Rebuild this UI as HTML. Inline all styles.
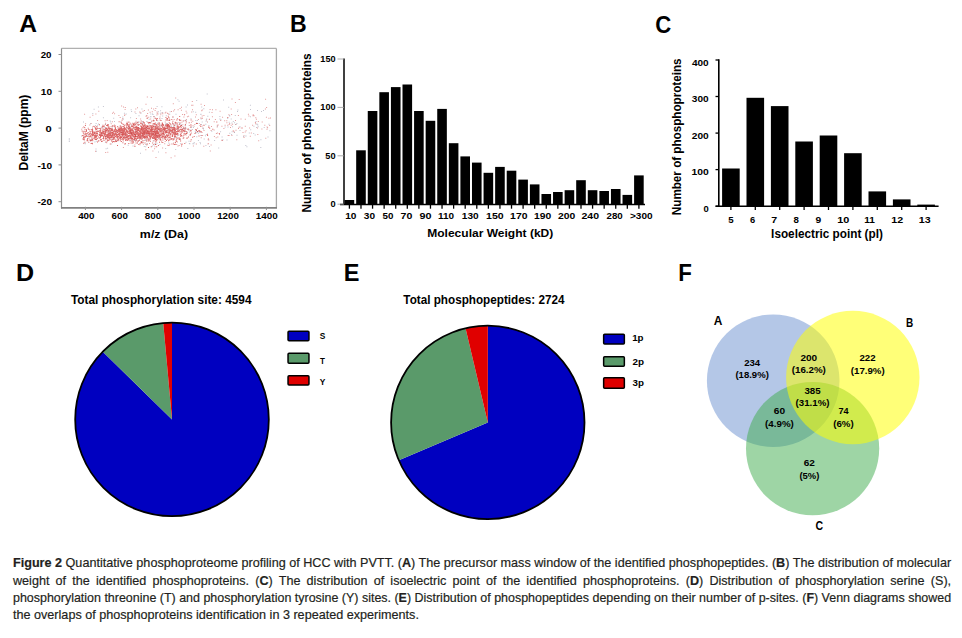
<!DOCTYPE html>
<html><head><meta charset="utf-8"><title>Figure 2</title>
<style>
html,body{margin:0;padding:0;background:#fff;}
body{width:962px;height:638px;overflow:hidden;position:relative;font-family:'Liberation Sans', Arial, sans-serif;}
svg{position:absolute;left:0;top:0;}
svg text{font-family:'Liberation Sans', Arial, sans-serif;}
.l{position:absolute;left:12.9px;font-size:13.1px;line-height:17px;height:17px;color:#231f20;white-space:nowrap;transform-origin:0 0;-webkit-text-stroke:0.2px #231f20;}
.j{text-align:justify;text-align-last:justify;white-space:normal;}
b{font-weight:bold;}
</style></head><body>
<svg width="962" height="638" viewBox="0 0 962 638">
<text x="19.39" y="31.80" font-size="24" font-weight="bold" fill="#000" textLength="17.76" lengthAdjust="spacingAndGlyphs">A</text>
<text x="290.05" y="31.80" font-size="24" font-weight="bold" fill="#000" textLength="16.70" lengthAdjust="spacingAndGlyphs">B</text>
<text x="655.29" y="32.60" font-size="24" font-weight="bold" fill="#000" textLength="16.02" lengthAdjust="spacingAndGlyphs">C</text>
<text x="15.92" y="281.20" font-size="24" font-weight="bold" fill="#000" textLength="18.13" lengthAdjust="spacingAndGlyphs">D</text>
<text x="343.83" y="281.10" font-size="24" font-weight="bold" fill="#000" textLength="15.69" lengthAdjust="spacingAndGlyphs">E</text>
<text x="678.21" y="280.80" font-size="24" font-weight="bold" fill="#000" textLength="13.61" lengthAdjust="spacingAndGlyphs">F</text>
<path d="M126.3 137.4h1v1h-1zM226.4 122.3h1v1h-1zM135.4 134.1h1v1h-1zM167.3 120.0h1v1h-1zM266.5 128.8h1v1h-1zM211.0 125.9h1v1h-1zM227.3 124.8h1v1h-1zM218.7 133.0h1v1h-1zM105.2 151.9h1v1h-1zM188.9 134.6h1v1h-1zM224.6 124.8h1v1h-1zM182.3 124.3h1v1h-1zM186.9 116.2h1v1h-1zM207.9 138.2h1v1h-1zM150.4 122.6h1v1h-1zM176.0 141.1h1v1h-1zM189.9 127.1h1v1h-1zM143.9 136.2h1v1h-1zM185.3 127.7h1v1h-1zM190.2 140.8h1v1h-1zM203.3 145.7h1v1h-1zM217.3 136.4h1v1h-1zM163.2 136.0h1v1h-1zM160.4 129.0h1v1h-1zM138.0 140.6h1v1h-1zM142.3 132.7h1v1h-1zM102.1 134.7h1v1h-1zM235.4 123.9h1v1h-1zM159.9 119.8h1v1h-1zM197.9 119.0h1v1h-1zM145.0 134.8h1v1h-1zM215.7 137.2h1v1h-1zM173.1 110.4h1v1h-1zM159.8 125.4h1v1h-1zM140.3 124.7h1v1h-1zM124.6 108.9h1v1h-1zM184.3 130.8h1v1h-1zM133.2 124.1h1v1h-1zM183.5 127.4h1v1h-1zM226.3 120.3h1v1h-1zM146.6 118.1h1v1h-1zM164.3 130.2h1v1h-1zM132.3 129.2h1v1h-1zM177.6 109.3h1v1h-1zM82.4 127.2h1v1h-1zM113.1 111.7h1v1h-1zM190.9 121.8h1v1h-1zM165.4 111.7h1v1h-1zM149.6 111.8h1v1h-1zM211.5 112.0h1v1h-1zM97.1 120.1h1v1h-1zM182.1 113.9h1v1h-1zM235.0 120.0h1v1h-1zM165.2 117.1h1v1h-1zM196.8 130.9h1v1h-1zM83.2 126.3h1v1h-1zM185.6 134.5h1v1h-1zM165.9 127.6h1v1h-1zM192.9 145.4h1v1h-1zM123.2 123.9h1v1h-1zM228.6 134.9h1v1h-1zM192.4 104.8h1v1h-1zM117.3 132.2h1v1h-1zM184.3 127.4h1v1h-1zM130.2 126.7h1v1h-1zM258.2 140.2h1v1h-1zM181.4 121.7h1v1h-1zM234.9 102.0h1v1h-1zM173.7 119.1h1v1h-1zM201.2 110.2h1v1h-1zM86.5 140.3h1v1h-1zM207.7 139.3h1v1h-1zM146.8 96.5h1v1h-1zM136.5 122.1h1v1h-1zM221.2 139.8h1v1h-1zM153.7 117.4h1v1h-1zM144.1 133.1h1v1h-1zM270.0 117.5h1v1h-1zM200.3 117.5h1v1h-1zM115.1 126.9h1v1h-1zM150.2 118.4h1v1h-1zM88.7 135.3h1v1h-1zM245.6 130.3h1v1h-1zM217.7 124.4h1v1h-1zM220.2 120.1h1v1h-1zM132.1 131.4h1v1h-1zM184.7 134.1h1v1h-1zM179.5 131.7h1v1h-1zM155.3 132.8h1v1h-1zM105.1 122.8h1v1h-1zM135.5 120.8h1v1h-1zM166.0 117.4h1v1h-1zM155.5 156.9h1v1h-1zM148.6 132.7h1v1h-1zM214.9 119.0h1v1h-1zM95.4 113.4h1v1h-1zM176.2 140.8h1v1h-1zM106.0 127.9h1v1h-1zM215.4 109.2h1v1h-1zM107.3 151.7h1v1h-1zM244.7 131.5h1v1h-1zM254.9 122.1h1v1h-1zM191.8 100.9h1v1h-1zM100.7 133.3h1v1h-1zM154.9 139.0h1v1h-1zM138.1 122.2h1v1h-1zM134.5 111.5h1v1h-1zM147.4 134.5h1v1h-1zM168.9 117.4h1v1h-1zM82.0 134.9h1v1h-1zM89.3 124.6h1v1h-1zM247.9 113.8h1v1h-1zM174.1 109.2h1v1h-1zM269.2 125.0h1v1h-1zM155.0 133.8h1v1h-1zM183.4 116.6h1v1h-1zM153.8 137.5h1v1h-1zM228.7 124.1h1v1h-1zM166.6 137.2h1v1h-1zM211.9 116.2h1v1h-1zM233.7 131.5h1v1h-1zM250.8 132.5h1v1h-1zM165.1 119.6h1v1h-1zM203.5 129.9h1v1h-1zM195.9 129.2h1v1h-1zM195.2 132.1h1v1h-1zM176.9 141.5h1v1h-1zM112.3 137.6h1v1h-1zM232.7 130.2h1v1h-1zM137.8 127.1h1v1h-1zM208.1 126.6h1v1h-1zM112.2 140.4h1v1h-1zM122.7 132.1h1v1h-1zM168.5 117.3h1v1h-1zM154.5 146.2h1v1h-1zM257.0 127.5h1v1h-1zM232.1 123.8h1v1h-1zM182.4 125.9h1v1h-1zM265.3 137.7h1v1h-1zM216.8 124.8h1v1h-1zM154.6 110.1h1v1h-1zM188.1 115.7h1v1h-1zM134.3 144.5h1v1h-1zM106.7 120.1h1v1h-1zM92.3 140.3h1v1h-1zM201.8 109.5h1v1h-1zM137.0 107.2h1v1h-1zM145.3 149.3h1v1h-1zM261.7 121.6h1v1h-1zM194.3 124.1h1v1h-1zM155.3 108.1h1v1h-1zM139.3 111.4h1v1h-1zM200.9 135.0h1v1h-1zM153.2 130.9h1v1h-1zM123.9 124.8h1v1h-1zM83.7 139.8h1v1h-1zM146.3 144.5h1v1h-1zM222.1 116.8h1v1h-1zM170.6 157.3h1v1h-1zM268.4 117.7h1v1h-1zM191.2 111.5h1v1h-1zM112.4 138.8h1v1h-1zM136.2 127.6h1v1h-1zM130.2 130.4h1v1h-1zM195.8 143.5h1v1h-1zM148.5 133.7h1v1h-1zM143.4 131.8h1v1h-1zM103.3 126.3h1v1h-1zM123.1 137.3h1v1h-1zM164.7 132.4h1v1h-1zM190.8 129.8h1v1h-1zM106.3 130.0h1v1h-1zM106.1 127.7h1v1h-1zM153.2 125.7h1v1h-1zM200.7 137.3h1v1h-1zM101.5 129.6h1v1h-1zM159.5 116.5h1v1h-1zM121.5 134.1h1v1h-1zM267.1 127.2h1v1h-1zM149.0 139.6h1v1h-1zM148.2 122.3h1v1h-1zM219.6 110.7h1v1h-1zM147.9 109.5h1v1h-1zM163.7 128.7h1v1h-1zM169.0 137.1h1v1h-1zM165.4 130.2h1v1h-1zM177.3 138.2h1v1h-1zM131.6 137.6h1v1h-1zM164.7 140.9h1v1h-1zM148.2 116.7h1v1h-1zM161.2 134.4h1v1h-1zM175.0 136.0h1v1h-1zM209.8 150.4h1v1h-1zM95.0 150.8h1v1h-1zM186.0 119.2h1v1h-1zM139.8 112.4h1v1h-1zM111.8 132.3h1v1h-1zM104.6 120.3h1v1h-1zM157.5 113.6h1v1h-1zM163.4 133.9h1v1h-1zM186.6 133.0h1v1h-1zM85.1 123.2h1v1h-1zM131.0 132.8h1v1h-1zM145.5 103.7h1v1h-1zM255.3 117.3h1v1h-1zM221.4 125.7h1v1h-1zM111.2 129.6h1v1h-1zM223.4 128.1h1v1h-1zM146.9 125.9h1v1h-1zM102.2 126.8h1v1h-1zM152.5 120.5h1v1h-1zM203.4 115.1h1v1h-1zM168.2 113.8h1v1h-1zM135.0 136.2h1v1h-1zM123.0 106.5h1v1h-1zM114.9 125.2h1v1h-1zM191.0 132.6h1v1h-1zM231.4 135.1h1v1h-1zM141.7 135.7h1v1h-1zM153.9 120.2h1v1h-1zM186.8 128.7h1v1h-1zM122.3 117.9h1v1h-1zM122.9 140.4h1v1h-1zM153.3 123.1h1v1h-1zM122.6 133.7h1v1h-1zM202.1 135.0h1v1h-1zM147.1 112.9h1v1h-1zM252.7 114.3h1v1h-1zM188.1 129.4h1v1h-1zM162.3 113.2h1v1h-1zM152.9 129.4h1v1h-1zM178.5 126.8h1v1h-1zM106.2 142.2h1v1h-1zM137.5 132.3h1v1h-1zM142.1 138.0h1v1h-1zM156.6 111.6h1v1h-1zM151.0 107.7h1v1h-1zM167.2 118.6h1v1h-1zM90.7 123.1h1v1h-1zM174.4 133.0h1v1h-1zM166.9 112.7h1v1h-1zM121.1 105.6h1v1h-1zM131.1 123.8h1v1h-1zM230.0 127.0h1v1h-1zM138.2 135.1h1v1h-1zM100.5 134.9h1v1h-1zM180.6 129.0h1v1h-1zM84.1 113.8h1v1h-1zM140.6 128.2h1v1h-1zM129.6 124.1h1v1h-1zM159.0 125.5h1v1h-1zM159.5 119.5h1v1h-1zM255.1 123.3h1v1h-1zM213.7 121.3h1v1h-1zM150.9 120.6h1v1h-1zM199.5 124.9h1v1h-1zM94.6 133.5h1v1h-1zM172.8 103.2h1v1h-1zM107.8 130.3h1v1h-1zM124.4 114.3h1v1h-1zM153.1 108.4h1v1h-1zM216.9 132.4h1v1h-1zM191.2 104.7h1v1h-1zM153.2 116.0h1v1h-1zM177.6 128.5h1v1h-1zM159.3 118.1h1v1h-1zM205.9 119.5h1v1h-1zM176.2 143.9h1v1h-1zM237.9 115.0h1v1h-1zM134.9 135.2h1v1h-1zM249.8 135.7h1v1h-1zM208.8 119.1h1v1h-1zM147.2 121.7h1v1h-1zM265.9 116.7h1v1h-1zM114.7 126.6h1v1h-1zM114.1 113.2h1v1h-1zM213.6 129.6h1v1h-1zM147.4 130.9h1v1h-1zM124.8 107.1h1v1h-1zM160.9 134.6h1v1h-1zM154.7 143.7h1v1h-1zM176.8 123.5h1v1h-1zM261.4 128.4h1v1h-1zM167.2 125.0h1v1h-1zM201.7 115.5h1v1h-1zM201.5 132.1h1v1h-1zM186.0 121.3h1v1h-1zM138.2 129.6h1v1h-1zM140.1 118.5h1v1h-1zM139.5 144.3h1v1h-1zM167.7 124.2h1v1h-1zM148.0 133.2h1v1h-1zM119.7 117.1h1v1h-1zM209.6 109.0h1v1h-1zM175.2 97.6h1v1h-1zM171.0 111.1h1v1h-1zM186.6 137.1h1v1h-1zM156.0 134.4h1v1h-1zM200.6 103.7h1v1h-1zM105.2 139.3h1v1h-1zM169.3 125.9h1v1h-1zM112.2 138.9h1v1h-1zM176.0 128.5h1v1h-1zM201.7 125.4h1v1h-1zM231.5 98.5h1v1h-1zM89.6 116.7h1v1h-1zM209.0 118.8h1v1h-1zM264.9 108.4h1v1h-1zM255.9 118.8h1v1h-1zM179.8 130.9h1v1h-1zM141.4 129.0h1v1h-1zM161.4 112.4h1v1h-1zM244.8 125.7h1v1h-1zM228.4 114.2h1v1h-1zM173.2 142.6h1v1h-1zM243.5 135.3h1v1h-1zM152.6 133.9h1v1h-1zM264.3 124.8h1v1h-1zM113.9 124.4h1v1h-1zM179.6 108.0h1v1h-1zM121.9 119.5h1v1h-1zM207.0 121.6h1v1h-1zM165.4 152.3h1v1h-1zM118.4 115.1h1v1h-1zM120.5 136.8h1v1h-1zM151.6 128.5h1v1h-1zM177.1 132.8h1v1h-1zM167.3 113.0h1v1h-1zM92.0 126.4h1v1h-1zM142.3 132.9h1v1h-1zM230.7 108.6h1v1h-1zM162.8 134.5h1v1h-1zM252.1 124.8h1v1h-1zM185.6 122.5h1v1h-1zM181.0 106.7h1v1h-1zM192.3 120.8h1v1h-1zM135.4 138.0h1v1h-1zM149.0 142.9h1v1h-1zM179.7 128.4h1v1h-1zM162.1 123.5h1v1h-1zM92.3 114.7h1v1h-1zM215.9 132.9h1v1h-1zM185.6 110.8h1v1h-1zM158.2 136.5h1v1h-1zM164.2 143.2h1v1h-1zM163.6 135.0h1v1h-1zM168.4 134.2h1v1h-1zM154.1 148.3h1v1h-1zM142.0 139.8h1v1h-1zM216.7 126.4h1v1h-1zM252.5 115.2h1v1h-1zM236.3 139.3h1v1h-1zM91.9 132.2h1v1h-1zM169.4 139.4h1v1h-1zM127.2 125.0h1v1h-1zM213.9 136.1h1v1h-1zM257.8 121.1h1v1h-1zM177.5 145.6h1v1h-1zM212.0 109.2h1v1h-1zM253.5 115.2h1v1h-1zM124.9 124.6h1v1h-1zM156.0 130.3h1v1h-1zM122.9 147.1h1v1h-1zM164.7 112.6h1v1h-1zM133.8 139.4h1v1h-1zM152.4 150.5h1v1h-1zM266.6 126.6h1v1h-1zM195.8 114.2h1v1h-1zM93.7 134.7h1v1h-1zM266.1 106.9h1v1h-1zM112.4 141.0h1v1h-1zM89.1 133.1h1v1h-1zM145.5 115.7h1v1h-1zM155.1 141.4h1v1h-1zM165.1 135.3h1v1h-1zM156.9 131.4h1v1h-1zM241.9 127.4h1v1h-1zM103.8 125.4h1v1h-1zM204.0 104.9h1v1h-1zM192.0 109.2h1v1h-1zM180.9 109.8h1v1h-1zM195.0 116.4h1v1h-1zM171.2 143.4h1v1h-1zM199.3 131.3h1v1h-1zM112.3 125.9h1v1h-1zM102.6 130.6h1v1h-1zM151.8 111.3h1v1h-1zM112.0 112.7h1v1h-1zM126.0 122.9h1v1h-1zM238.0 128.0h1v1h-1zM233.2 130.7h1v1h-1zM238.7 98.9h1v1h-1zM118.6 129.0h1v1h-1zM135.9 118.0h1v1h-1zM210.6 130.1h1v1h-1zM207.8 142.9h1v1h-1zM142.5 110.7h1v1h-1zM166.0 131.9h1v1h-1zM157.4 133.0h1v1h-1zM240.8 127.4h1v1h-1zM174.4 155.6h1v1h-1zM198.3 130.2h1v1h-1zM184.4 129.7h1v1h-1zM133.2 123.5h1v1h-1zM131.9 142.1h1v1h-1zM142.9 143.8h1v1h-1zM185.1 126.9h1v1h-1zM238.6 126.7h1v1h-1zM248.4 115.5h1v1h-1zM134.3 124.8h1v1h-1zM210.6 144.5h1v1h-1zM89.2 129.4h1v1h-1zM146.4 132.8h1v1h-1zM230.7 124.7h1v1h-1zM154.6 130.1h1v1h-1zM98.3 110.8h1v1h-1zM134.9 123.8h1v1h-1zM180.0 124.9h1v1h-1zM184.7 124.5h1v1h-1zM120.3 132.2h1v1h-1zM152.9 144.1h1v1h-1zM124.1 115.0h1v1h-1zM167.2 144.7h1v1h-1zM131.8 143.1h1v1h-1zM109.0 137.7h1v1h-1zM134.5 128.5h1v1h-1zM170.1 123.7h1v1h-1zM173.9 129.6h1v1h-1zM149.4 131.9h1v1h-1zM240.5 118.5h1v1h-1zM160.3 114.3h1v1h-1zM242.5 131.9h1v1h-1zM203.9 124.8h1v1h-1zM229.2 123.0h1v1h-1zM202.5 127.8h1v1h-1zM156.7 112.8h1v1h-1zM163.0 124.7h1v1h-1zM162.1 147.5h1v1h-1zM208.3 139.6h1v1h-1zM121.4 126.2h1v1h-1zM163.4 128.7h1v1h-1zM99.7 127.7h1v1h-1zM93.3 125.7h1v1h-1zM235.5 129.8h1v1h-1zM243.5 137.0h1v1h-1zM111.9 121.2h1v1h-1zM116.1 141.1h1v1h-1zM222.0 139.9h1v1h-1zM186.3 112.4h1v1h-1zM167.4 125.4h1v1h-1zM181.5 143.3h1v1h-1zM110.7 123.2h1v1h-1zM137.5 133.5h1v1h-1zM144.5 128.2h1v1h-1zM165.4 128.8h1v1h-1zM135.4 142.4h1v1h-1zM143.9 110.0h1v1h-1zM159.5 125.4h1v1h-1zM104.8 124.1h1v1h-1zM188.8 124.9h1v1h-1zM168.8 119.5h1v1h-1zM178.6 129.7h1v1h-1zM192.5 125.3h1v1h-1zM227.6 135.1h1v1h-1zM134.1 134.0h1v1h-1zM122.3 139.4h1v1h-1zM160.5 123.7h1v1h-1zM231.1 114.1h1v1h-1zM163.3 132.9h1v1h-1zM167.0 118.8h1v1h-1zM84.9 133.6h1v1h-1zM150.7 97.0h1v1h-1zM244.8 118.7h1v1h-1zM156.4 114.5h1v1h-1zM135.3 108.5h1v1h-1zM149.1 122.2h1v1h-1zM164.7 121.4h1v1h-1zM168.0 117.1h1v1h-1zM147.3 126.5h1v1h-1zM197.1 127.7h1v1h-1zM169.2 143.8h1v1h-1zM207.6 143.6h1v1h-1zM164.5 135.5h1v1h-1zM87.8 134.4h1v1h-1zM224.2 120.3h1v1h-1zM155.2 143.9h1v1h-1zM81.2 128.8h1v1h-1zM265.1 98.8h1v1h-1zM249.1 127.5h1v1h-1zM257.3 133.9h1v1h-1zM121.4 119.7h1v1h-1zM200.1 124.0h1v1h-1zM178.7 145.1h1v1h-1zM203.0 124.8h1v1h-1zM184.0 128.2h1v1h-1z" fill="#cf4a4a" fill-opacity="0.55"/>
<path d="M250.0 109.1h1v1h-1zM205.3 123.7h1v1h-1zM141.7 135.3h1v1h-1zM110.0 130.8h1v1h-1zM142.3 121.3h1v1h-1zM229.3 132.7h1v1h-1zM245.3 145.1h1v1h-1zM205.4 144.9h1v1h-1zM261.0 111.1h1v1h-1zM152.6 140.6h1v1h-1zM142.4 123.1h1v1h-1zM232.1 126.2h1v1h-1zM98.0 123.5h1v1h-1zM172.3 123.4h1v1h-1zM255.5 121.1h1v1h-1zM180.4 123.8h1v1h-1zM116.0 130.9h1v1h-1zM158.3 137.9h1v1h-1zM177.8 128.6h1v1h-1zM150.0 116.3h1v1h-1zM102.9 117.2h1v1h-1zM105.1 123.7h1v1h-1zM146.6 142.9h1v1h-1zM195.2 111.8h1v1h-1zM185.6 119.6h1v1h-1zM177.4 99.2h1v1h-1zM95.6 122.9h1v1h-1zM148.6 123.4h1v1h-1zM111.1 128.2h1v1h-1zM165.0 124.0h1v1h-1zM136.8 122.6h1v1h-1zM198.2 130.5h1v1h-1zM189.1 131.6h1v1h-1zM196.9 120.1h1v1h-1zM129.9 140.3h1v1h-1zM96.0 150.7h1v1h-1zM141.4 108.5h1v1h-1zM109.3 132.5h1v1h-1zM142.1 123.8h1v1h-1zM124.0 136.7h1v1h-1zM236.5 134.8h1v1h-1zM120.3 121.5h1v1h-1zM154.5 130.7h1v1h-1zM208.9 111.8h1v1h-1zM229.2 115.4h1v1h-1zM97.9 106.6h1v1h-1zM164.9 135.9h1v1h-1zM174.5 132.6h1v1h-1zM200.3 113.9h1v1h-1zM165.3 122.7h1v1h-1zM130.7 109.3h1v1h-1zM175.5 113.7h1v1h-1zM156.8 135.6h1v1h-1zM166.3 126.4h1v1h-1zM158.3 128.5h1v1h-1zM140.3 137.5h1v1h-1zM129.9 132.2h1v1h-1zM152.5 114.1h1v1h-1zM222.4 139.3h1v1h-1zM135.4 113.0h1v1h-1zM228.7 121.8h1v1h-1zM196.3 136.2h1v1h-1zM139.1 139.5h1v1h-1zM183.6 120.3h1v1h-1zM161.5 130.4h1v1h-1zM116.5 140.0h1v1h-1zM211.3 130.8h1v1h-1zM124.6 133.5h1v1h-1zM153.6 144.4h1v1h-1zM138.5 115.2h1v1h-1zM254.7 134.6h1v1h-1zM190.5 118.3h1v1h-1zM234.8 115.0h1v1h-1zM227.2 117.9h1v1h-1zM176.6 135.5h1v1h-1zM102.9 105.9h1v1h-1zM218.2 147.4h1v1h-1zM188.9 143.0h1v1h-1zM250.2 129.3h1v1h-1zM267.5 136.4h1v1h-1zM104.9 141.7h1v1h-1zM173.8 137.6h1v1h-1zM200.5 113.7h1v1h-1zM174.4 124.7h1v1h-1zM188.5 140.8h1v1h-1zM205.8 134.0h1v1h-1zM173.2 126.1h1v1h-1zM134.5 129.4h1v1h-1zM184.7 125.6h1v1h-1zM175.2 148.9h1v1h-1zM245.5 135.4h1v1h-1zM104.4 127.4h1v1h-1zM125.7 113.5h1v1h-1zM138.5 124.4h1v1h-1zM148.7 118.8h1v1h-1zM178.6 100.8h1v1h-1zM159.4 144.1h1v1h-1zM156.8 122.8h1v1h-1zM146.2 134.0h1v1h-1zM106.6 136.4h1v1h-1zM151.9 145.4h1v1h-1zM201.0 123.9h1v1h-1zM193.7 141.9h1v1h-1zM191.9 129.0h1v1h-1zM193.7 125.8h1v1h-1zM112.0 126.5h1v1h-1zM195.4 132.5h1v1h-1zM237.0 111.1h1v1h-1zM81.0 135.4h1v1h-1zM156.5 142.8h1v1h-1zM239.5 126.2h1v1h-1zM131.3 137.4h1v1h-1zM133.9 134.4h1v1h-1zM153.9 115.9h1v1h-1zM201.7 121.5h1v1h-1zM146.1 127.0h1v1h-1zM135.3 126.3h1v1h-1zM191.0 126.9h1v1h-1zM193.4 143.3h1v1h-1zM189.3 129.3h1v1h-1zM114.0 121.1h1v1h-1zM146.3 120.9h1v1h-1zM175.3 123.7h1v1h-1zM130.1 117.3h1v1h-1zM147.1 130.8h1v1h-1zM140.7 112.5h1v1h-1zM220.4 119.3h1v1h-1zM207.3 115.7h1v1h-1zM105.2 136.1h1v1h-1zM95.5 148.4h1v1h-1zM172.1 131.3h1v1h-1zM135.0 131.6h1v1h-1zM268.5 123.8h1v1h-1zM101.7 132.8h1v1h-1zM202.4 127.6h1v1h-1zM200.7 118.4h1v1h-1zM120.9 131.7h1v1h-1zM220.1 131.2h1v1h-1zM223.0 99.6h1v1h-1zM132.5 145.5h1v1h-1zM219.4 116.0h1v1h-1zM108.8 130.7h1v1h-1zM200.0 143.3h1v1h-1zM263.7 127.1h1v1h-1zM229.1 115.0h1v1h-1zM130.8 125.3h1v1h-1zM104.5 127.0h1v1h-1zM248.8 132.4h1v1h-1zM174.5 137.6h1v1h-1zM154.6 143.1h1v1h-1zM151.0 121.2h1v1h-1zM90.4 140.4h1v1h-1zM167.0 123.0h1v1h-1zM105.6 148.2h1v1h-1zM125.7 135.6h1v1h-1zM140.0 152.8h1v1h-1zM257.0 110.0h1v1h-1zM185.6 106.4h1v1h-1zM181.0 124.7h1v1h-1zM214.1 140.0h1v1h-1zM95.8 140.8h1v1h-1zM158.0 151.5h1v1h-1zM150.3 113.5h1v1h-1zM203.3 108.2h1v1h-1zM171.0 125.9h1v1h-1zM232.8 120.9h1v1h-1zM219.4 118.6h1v1h-1zM204.9 135.3h1v1h-1zM243.1 135.9h1v1h-1zM109.7 120.4h1v1h-1zM209.0 146.0h1v1h-1zM129.4 126.6h1v1h-1zM97.1 124.8h1v1h-1zM200.3 135.1h1v1h-1zM195.6 130.0h1v1h-1zM138.3 120.9h1v1h-1zM263.0 110.0h1v1h-1zM111.8 138.8h1v1h-1zM154.4 124.7h1v1h-1zM141.1 135.8h1v1h-1zM135.4 140.1h1v1h-1zM146.2 128.8h1v1h-1zM130.3 129.7h1v1h-1zM139.3 127.5h1v1h-1zM127.9 127.2h1v1h-1zM146.4 134.3h1v1h-1zM145.1 140.0h1v1h-1zM169.8 131.0h1v1h-1zM177.2 129.6h1v1h-1zM110.3 121.5h1v1h-1zM144.7 138.8h1v1h-1zM187.3 148.0h1v1h-1zM99.5 128.3h1v1h-1zM196.7 131.9h1v1h-1zM185.5 141.7h1v1h-1zM122.3 116.5h1v1h-1zM224.6 126.6h1v1h-1zM84.8 143.3h1v1h-1zM169.2 113.8h1v1h-1zM113.2 117.8h1v1h-1zM151.0 129.4h1v1h-1zM206.2 118.6h1v1h-1zM187.0 104.5h1v1h-1zM256.0 126.9h1v1h-1zM231.6 131.3h1v1h-1zM205.6 120.7h1v1h-1zM269.4 130.3h1v1h-1zM134.0 139.8h1v1h-1zM107.1 147.7h1v1h-1zM186.9 132.0h1v1h-1zM111.1 143.5h1v1h-1zM161.0 124.8h1v1h-1zM141.7 121.4h1v1h-1zM231.4 122.4h1v1h-1zM179.7 139.2h1v1h-1zM91.2 138.8h1v1h-1zM260.4 139.3h1v1h-1zM192.9 127.1h1v1h-1zM162.2 115.5h1v1h-1zM197.9 132.7h1v1h-1zM230.7 118.5h1v1h-1zM239.5 130.1h1v1h-1zM161.4 106.3h1v1h-1zM162.2 111.9h1v1h-1zM134.6 139.7h1v1h-1zM130.9 132.8h1v1h-1zM179.1 123.1h1v1h-1zM101.2 126.4h1v1h-1zM133.3 139.6h1v1h-1zM253.2 133.0h1v1h-1zM141.7 141.3h1v1h-1zM165.1 148.1h1v1h-1zM152.7 133.2h1v1h-1zM169.6 111.2h1v1h-1zM160.3 125.2h1v1h-1zM178.0 134.5h1v1h-1zM249.9 116.3h1v1h-1zM131.1 111.1h1v1h-1zM157.3 120.3h1v1h-1zM208.4 125.0h1v1h-1zM122.8 118.8h1v1h-1zM159.4 135.8h1v1h-1zM123.9 112.7h1v1h-1zM246.4 146.2h1v1h-1zM143.8 146.0h1v1h-1zM152.2 138.0h1v1h-1zM164.8 128.0h1v1h-1zM245.3 135.6h1v1h-1zM157.3 129.8h1v1h-1zM228.2 106.8h1v1h-1zM94.4 141.4h1v1h-1zM84.4 142.8h1v1h-1zM156.6 106.1h1v1h-1zM172.7 127.3h1v1h-1zM235.2 124.0h1v1h-1zM154.5 126.1h1v1h-1zM256.4 123.5h1v1h-1zM197.9 140.1h1v1h-1zM138.4 121.5h1v1h-1zM185.2 127.9h1v1h-1zM159.9 112.7h1v1h-1zM216.9 125.7h1v1h-1zM257.3 124.6h1v1h-1zM158.0 129.1h1v1h-1zM203.0 128.5h1v1h-1zM201.2 106.6h1v1h-1zM150.5 116.3h1v1h-1zM161.5 118.1h1v1h-1zM179.9 143.2h1v1h-1zM256.5 124.0h1v1h-1zM165.8 115.3h1v1h-1zM198.8 123.0h1v1h-1zM145.2 146.2h1v1h-1zM196.2 99.9h1v1h-1zM157.9 111.2h1v1h-1zM164.8 138.9h1v1h-1zM234.0 132.0h1v1h-1zM199.6 132.1h1v1h-1zM138.1 124.6h1v1h-1zM231.1 133.9h1v1h-1zM139.2 139.3h1v1h-1zM145.2 144.1h1v1h-1zM93.6 108.7h1v1h-1zM168.3 128.8h1v1h-1zM194.8 131.3h1v1h-1zM257.7 126.3h1v1h-1zM160.1 110.3h1v1h-1zM237.4 109.4h1v1h-1zM189.3 143.3h1v1h-1zM253.4 125.7h1v1h-1zM172.5 116.5h1v1h-1zM152.0 113.5h1v1h-1zM92.3 113.0h1v1h-1zM127.7 144.8h1v1h-1zM195.3 119.9h1v1h-1zM206.7 93.6h1v1h-1zM144.0 131.4h1v1h-1zM121.2 132.0h1v1h-1zM157.0 126.9h1v1h-1zM109.4 131.4h1v1h-1zM249.9 104.8h1v1h-1zM168.3 142.4h1v1h-1zM87.2 134.4h1v1h-1zM136.0 130.9h1v1h-1zM192.8 111.2h1v1h-1zM203.7 138.5h1v1h-1zM221.6 136.6h1v1h-1zM90.0 123.3h1v1h-1zM192.4 143.2h1v1h-1zM226.5 139.5h1v1h-1zM196.2 122.6h1v1h-1zM83.0 121.5h1v1h-1zM90.0 123.3h1v1h-1zM227.5 126.6h1v1h-1zM199.6 142.1h1v1h-1zM95.1 125.1h1v1h-1zM112.4 134.6h1v1h-1zM234.1 122.2h1v1h-1zM236.4 123.0h1v1h-1zM119.6 125.6h1v1h-1zM260.3 146.9h1v1h-1zM182.8 128.6h1v1h-1zM178.4 121.9h1v1h-1zM183.3 127.8h1v1h-1zM184.9 130.9h1v1h-1zM68.8 138.2h1v1h-1zM68.8 139.6h1v1h-1zM68.8 141.0h1v1h-1z" fill="#8a8aa0" fill-opacity="0.5"/>
<path d="M137.8 140.5h1v1h-1zM174.0 124.7h1v1h-1zM144.8 130.0h1v1h-1zM132.0 138.1h1v1h-1zM131.0 134.3h1v1h-1zM195.3 129.0h1v1h-1zM126.2 123.7h1v1h-1zM140.1 122.5h1v1h-1zM135.5 133.3h1v1h-1zM176.3 133.9h1v1h-1zM110.9 134.8h1v1h-1zM150.9 133.8h1v1h-1zM115.0 127.7h1v1h-1zM129.7 134.6h1v1h-1zM166.5 130.0h1v1h-1zM83.5 134.4h1v1h-1zM136.2 132.5h1v1h-1zM156.1 132.4h1v1h-1zM175.6 133.7h1v1h-1zM92.5 130.9h1v1h-1zM166.9 118.3h1v1h-1zM153.5 140.3h1v1h-1zM135.7 138.9h1v1h-1zM143.8 130.2h1v1h-1zM181.5 129.6h1v1h-1zM146.6 134.9h1v1h-1zM126.9 130.8h1v1h-1zM145.3 132.5h1v1h-1zM94.6 134.9h1v1h-1zM92.0 143.3h1v1h-1zM151.5 135.2h1v1h-1zM166.6 125.2h1v1h-1zM129.1 133.3h1v1h-1zM155.1 127.6h1v1h-1zM143.6 136.4h1v1h-1zM139.7 130.2h1v1h-1zM159.0 141.7h1v1h-1zM157.1 136.7h1v1h-1zM169.4 129.9h1v1h-1zM146.4 139.3h1v1h-1zM121.5 133.8h1v1h-1zM154.9 138.3h1v1h-1zM114.4 138.4h1v1h-1zM168.1 140.2h1v1h-1zM176.7 137.6h1v1h-1zM175.1 131.6h1v1h-1zM153.6 132.0h1v1h-1zM124.4 135.0h1v1h-1zM145.3 136.3h1v1h-1zM154.5 126.9h1v1h-1zM125.2 138.4h1v1h-1zM140.6 130.5h1v1h-1zM146.2 128.9h1v1h-1zM114.3 129.2h1v1h-1zM140.4 132.2h1v1h-1zM129.5 131.3h1v1h-1zM173.3 129.1h1v1h-1zM122.4 128.0h1v1h-1zM123.2 130.3h1v1h-1zM106.6 137.6h1v1h-1zM142.1 135.5h1v1h-1zM81.6 130.4h1v1h-1zM160.1 138.9h1v1h-1zM101.4 133.1h1v1h-1zM160.6 120.0h1v1h-1zM126.1 127.5h1v1h-1zM135.9 126.9h1v1h-1zM136.7 127.5h1v1h-1zM163.7 129.2h1v1h-1zM93.5 135.2h1v1h-1zM198.8 130.3h1v1h-1zM154.4 136.1h1v1h-1zM121.9 132.9h1v1h-1zM126.8 136.5h1v1h-1zM135.2 136.6h1v1h-1zM145.0 128.3h1v1h-1zM170.2 130.0h1v1h-1zM144.5 137.0h1v1h-1zM144.5 142.6h1v1h-1zM145.8 129.9h1v1h-1zM88.4 136.1h1v1h-1zM125.1 134.4h1v1h-1zM182.7 137.7h1v1h-1zM144.3 128.3h1v1h-1zM167.6 129.8h1v1h-1zM84.2 127.1h1v1h-1zM181.5 131.1h1v1h-1zM132.3 139.3h1v1h-1zM89.8 136.3h1v1h-1zM194.5 133.1h1v1h-1zM147.0 128.1h1v1h-1zM155.6 139.0h1v1h-1zM120.8 136.2h1v1h-1zM148.4 127.3h1v1h-1zM96.6 135.2h1v1h-1zM167.1 134.8h1v1h-1zM121.6 133.9h1v1h-1zM151.9 128.9h1v1h-1zM98.9 134.9h1v1h-1zM90.2 139.5h1v1h-1zM143.4 122.1h1v1h-1zM141.7 133.2h1v1h-1zM176.3 119.4h1v1h-1zM190.6 119.5h1v1h-1zM95.1 136.4h1v1h-1zM122.8 135.8h1v1h-1zM124.6 129.6h1v1h-1zM107.8 130.5h1v1h-1zM114.7 133.3h1v1h-1zM114.7 132.7h1v1h-1zM146.5 131.8h1v1h-1zM143.2 132.1h1v1h-1zM151.3 130.0h1v1h-1zM100.0 128.4h1v1h-1zM136.9 129.5h1v1h-1zM133.7 132.2h1v1h-1zM175.6 134.0h1v1h-1zM151.8 132.5h1v1h-1zM120.6 139.0h1v1h-1zM157.4 130.8h1v1h-1zM163.3 132.0h1v1h-1zM131.4 125.2h1v1h-1zM142.4 124.9h1v1h-1zM168.7 122.2h1v1h-1zM156.2 146.3h1v1h-1zM117.2 131.7h1v1h-1zM144.9 130.4h1v1h-1zM136.1 133.6h1v1h-1zM144.6 132.5h1v1h-1zM99.3 132.5h1v1h-1zM129.1 132.9h1v1h-1zM84.6 136.5h1v1h-1zM102.8 128.7h1v1h-1zM143.4 136.8h1v1h-1zM112.1 129.2h1v1h-1zM103.4 131.0h1v1h-1zM163.1 128.2h1v1h-1zM155.8 129.6h1v1h-1zM122.4 134.3h1v1h-1zM86.1 133.2h1v1h-1zM159.7 135.4h1v1h-1zM150.5 125.9h1v1h-1zM117.4 140.2h1v1h-1zM154.4 128.2h1v1h-1zM148.8 136.3h1v1h-1zM149.5 128.4h1v1h-1zM179.4 126.8h1v1h-1zM152.3 130.8h1v1h-1zM176.2 133.8h1v1h-1zM127.9 132.9h1v1h-1zM153.6 130.9h1v1h-1zM158.6 124.2h1v1h-1zM161.2 127.9h1v1h-1zM154.9 136.6h1v1h-1zM135.1 130.3h1v1h-1zM176.6 124.4h1v1h-1zM146.3 132.0h1v1h-1zM158.1 134.9h1v1h-1zM149.4 125.6h1v1h-1zM106.0 135.2h1v1h-1zM166.4 127.8h1v1h-1zM169.5 122.9h1v1h-1zM145.5 130.0h1v1h-1zM101.5 132.6h1v1h-1zM144.0 136.1h1v1h-1zM170.1 130.5h1v1h-1zM122.3 130.3h1v1h-1zM118.6 129.7h1v1h-1zM186.4 131.5h1v1h-1zM148.2 140.4h1v1h-1zM129.1 134.9h1v1h-1zM112.0 129.9h1v1h-1zM152.6 129.1h1v1h-1zM109.1 133.6h1v1h-1zM177.4 132.8h1v1h-1zM164.9 131.7h1v1h-1zM105.4 131.2h1v1h-1zM128.2 132.8h1v1h-1zM141.3 137.9h1v1h-1zM95.3 135.2h1v1h-1zM148.0 132.9h1v1h-1zM115.9 134.2h1v1h-1zM98.3 130.8h1v1h-1zM104.2 128.9h1v1h-1zM154.1 129.0h1v1h-1zM85.4 135.7h1v1h-1zM87.3 140.3h1v1h-1zM164.2 126.6h1v1h-1zM152.3 125.3h1v1h-1zM154.6 126.1h1v1h-1zM113.6 131.3h1v1h-1zM156.3 133.1h1v1h-1zM128.7 130.2h1v1h-1zM149.1 127.8h1v1h-1zM155.3 125.8h1v1h-1zM152.8 120.3h1v1h-1zM91.3 138.4h1v1h-1zM146.3 127.3h1v1h-1zM155.7 127.0h1v1h-1zM152.5 126.6h1v1h-1zM131.4 128.3h1v1h-1zM88.4 133.7h1v1h-1zM99.5 137.2h1v1h-1zM119.4 132.4h1v1h-1zM125.1 140.0h1v1h-1zM114.2 126.3h1v1h-1zM123.5 131.2h1v1h-1zM138.2 130.1h1v1h-1zM135.1 140.5h1v1h-1zM178.7 130.4h1v1h-1zM137.3 128.7h1v1h-1zM141.4 133.6h1v1h-1zM125.6 132.8h1v1h-1zM128.4 121.6h1v1h-1zM163.9 129.5h1v1h-1zM94.4 138.5h1v1h-1zM145.4 131.7h1v1h-1zM173.4 138.2h1v1h-1zM182.7 130.6h1v1h-1zM145.3 136.9h1v1h-1zM103.0 136.2h1v1h-1zM148.9 133.0h1v1h-1zM128.8 128.6h1v1h-1zM100.6 131.9h1v1h-1zM177.1 133.2h1v1h-1zM174.6 132.5h1v1h-1zM121.9 131.3h1v1h-1zM142.0 134.8h1v1h-1zM151.7 129.6h1v1h-1zM146.4 135.7h1v1h-1zM105.6 130.1h1v1h-1zM99.9 135.4h1v1h-1zM139.1 132.7h1v1h-1zM105.2 133.6h1v1h-1zM132.5 132.4h1v1h-1zM160.8 130.7h1v1h-1zM174.0 135.5h1v1h-1zM176.8 125.7h1v1h-1zM168.7 120.0h1v1h-1zM136.9 137.9h1v1h-1zM111.0 140.4h1v1h-1zM124.2 138.3h1v1h-1zM140.7 130.2h1v1h-1zM143.5 128.3h1v1h-1zM155.2 132.3h1v1h-1zM143.7 137.2h1v1h-1zM163.1 127.2h1v1h-1zM120.9 131.9h1v1h-1zM146.3 130.4h1v1h-1zM140.2 131.2h1v1h-1zM134.6 133.5h1v1h-1zM105.0 131.6h1v1h-1zM90.3 134.6h1v1h-1zM108.2 140.1h1v1h-1zM108.9 139.3h1v1h-1zM107.5 133.4h1v1h-1zM140.7 127.7h1v1h-1zM123.0 133.6h1v1h-1zM200.8 131.3h1v1h-1zM147.6 133.6h1v1h-1zM127.0 134.5h1v1h-1zM95.7 137.7h1v1h-1zM86.7 136.0h1v1h-1zM123.1 131.0h1v1h-1zM93.0 134.1h1v1h-1zM164.0 136.5h1v1h-1zM113.0 132.7h1v1h-1zM116.5 129.9h1v1h-1zM119.9 137.5h1v1h-1zM107.1 136.3h1v1h-1zM152.4 132.7h1v1h-1zM114.7 133.9h1v1h-1zM171.0 127.6h1v1h-1zM123.5 131.1h1v1h-1zM136.7 130.1h1v1h-1zM176.2 133.3h1v1h-1zM142.7 134.0h1v1h-1zM137.3 135.7h1v1h-1zM123.9 131.4h1v1h-1zM161.5 133.8h1v1h-1zM113.6 131.2h1v1h-1zM110.8 129.0h1v1h-1zM138.8 134.1h1v1h-1zM139.0 135.8h1v1h-1zM142.0 129.9h1v1h-1zM92.2 132.0h1v1h-1zM145.1 130.1h1v1h-1zM149.3 134.1h1v1h-1zM122.7 134.4h1v1h-1zM137.6 134.6h1v1h-1zM109.4 136.4h1v1h-1zM173.7 131.8h1v1h-1zM162.6 136.1h1v1h-1zM152.6 136.4h1v1h-1zM104.8 130.3h1v1h-1zM123.8 134.0h1v1h-1zM115.6 133.6h1v1h-1zM109.8 132.6h1v1h-1zM125.7 130.7h1v1h-1zM97.2 138.0h1v1h-1zM133.1 123.5h1v1h-1zM146.3 133.4h1v1h-1zM141.9 128.2h1v1h-1zM139.4 132.4h1v1h-1zM109.8 133.6h1v1h-1zM126.0 136.9h1v1h-1zM136.2 123.3h1v1h-1zM182.3 129.6h1v1h-1zM97.4 131.1h1v1h-1zM184.6 128.8h1v1h-1zM157.7 137.6h1v1h-1zM143.6 122.0h1v1h-1zM146.0 127.8h1v1h-1zM148.5 128.8h1v1h-1zM149.1 134.2h1v1h-1zM178.8 119.1h1v1h-1zM124.1 136.6h1v1h-1zM155.8 139.9h1v1h-1zM149.9 129.4h1v1h-1zM173.2 129.3h1v1h-1zM169.8 136.5h1v1h-1zM147.7 127.7h1v1h-1zM158.6 129.1h1v1h-1zM168.8 124.8h1v1h-1zM158.7 131.5h1v1h-1zM142.6 131.6h1v1h-1zM164.6 130.8h1v1h-1zM89.0 133.8h1v1h-1zM142.4 131.8h1v1h-1zM110.9 128.4h1v1h-1zM123.1 136.9h1v1h-1zM151.4 134.2h1v1h-1zM184.6 128.8h1v1h-1zM176.3 131.4h1v1h-1zM159.0 136.7h1v1h-1zM93.9 135.5h1v1h-1zM144.5 132.2h1v1h-1zM112.4 132.3h1v1h-1zM130.6 131.9h1v1h-1zM136.7 130.2h1v1h-1zM111.0 130.2h1v1h-1zM153.1 133.5h1v1h-1zM154.0 123.3h1v1h-1zM127.0 127.5h1v1h-1zM142.3 128.1h1v1h-1zM132.0 135.5h1v1h-1zM164.5 138.6h1v1h-1zM150.8 134.1h1v1h-1zM111.9 132.2h1v1h-1zM126.4 134.1h1v1h-1zM86.0 129.2h1v1h-1zM166.3 124.5h1v1h-1zM84.8 131.6h1v1h-1zM120.5 127.1h1v1h-1zM165.2 138.8h1v1h-1zM105.8 135.7h1v1h-1zM118.7 127.6h1v1h-1zM175.9 139.3h1v1h-1zM171.5 131.0h1v1h-1zM99.3 131.8h1v1h-1zM162.8 131.5h1v1h-1zM174.4 135.2h1v1h-1zM147.0 130.7h1v1h-1zM113.9 135.5h1v1h-1zM111.7 136.1h1v1h-1zM86.0 129.7h1v1h-1zM131.8 132.6h1v1h-1zM159.7 130.3h1v1h-1zM167.0 125.5h1v1h-1zM208.4 126.7h1v1h-1zM173.7 129.8h1v1h-1zM106.5 131.8h1v1h-1zM156.8 132.6h1v1h-1zM111.0 128.6h1v1h-1zM172.6 139.6h1v1h-1zM120.7 134.4h1v1h-1zM126.9 132.0h1v1h-1zM96.7 126.6h1v1h-1zM155.7 135.3h1v1h-1zM127.7 138.4h1v1h-1zM102.6 133.2h1v1h-1zM142.2 127.9h1v1h-1zM140.2 135.3h1v1h-1zM102.5 138.0h1v1h-1zM106.8 136.7h1v1h-1zM164.6 136.6h1v1h-1zM150.7 126.5h1v1h-1zM138.5 136.5h1v1h-1zM151.1 135.3h1v1h-1zM127.2 135.8h1v1h-1zM110.0 136.7h1v1h-1zM123.8 133.8h1v1h-1zM83.0 137.5h1v1h-1zM140.3 129.6h1v1h-1zM161.6 136.1h1v1h-1zM171.4 130.3h1v1h-1zM160.1 131.6h1v1h-1zM168.6 135.4h1v1h-1zM104.7 132.2h1v1h-1zM128.0 136.0h1v1h-1zM113.8 136.9h1v1h-1zM151.9 133.6h1v1h-1zM101.7 134.6h1v1h-1zM133.8 137.9h1v1h-1zM128.6 132.3h1v1h-1zM107.5 135.6h1v1h-1zM146.6 143.8h1v1h-1zM167.5 127.3h1v1h-1zM177.5 125.5h1v1h-1zM88.3 141.7h1v1h-1zM115.0 129.0h1v1h-1zM122.2 138.1h1v1h-1zM178.5 137.3h1v1h-1zM140.7 120.6h1v1h-1zM159.6 128.1h1v1h-1zM143.8 134.6h1v1h-1zM138.6 124.0h1v1h-1zM130.3 129.4h1v1h-1zM150.0 129.8h1v1h-1zM175.3 133.3h1v1h-1zM155.0 134.1h1v1h-1zM141.0 126.9h1v1h-1zM175.0 130.1h1v1h-1zM108.6 132.2h1v1h-1zM137.7 128.6h1v1h-1zM155.4 131.5h1v1h-1zM130.2 127.8h1v1h-1zM96.2 128.9h1v1h-1zM137.1 137.3h1v1h-1zM153.2 126.1h1v1h-1zM105.7 134.8h1v1h-1zM146.3 115.2h1v1h-1zM122.2 138.5h1v1h-1zM143.0 131.0h1v1h-1zM177.4 130.1h1v1h-1zM127.9 127.8h1v1h-1zM130.1 130.8h1v1h-1zM143.7 133.9h1v1h-1zM175.1 122.2h1v1h-1zM96.7 130.5h1v1h-1zM140.6 130.4h1v1h-1zM89.4 131.3h1v1h-1zM143.0 134.5h1v1h-1zM130.1 129.6h1v1h-1zM126.2 125.2h1v1h-1zM88.5 137.4h1v1h-1zM172.0 131.5h1v1h-1zM133.2 130.8h1v1h-1zM156.1 132.1h1v1h-1zM165.2 131.0h1v1h-1zM90.6 143.0h1v1h-1zM156.9 135.9h1v1h-1zM120.3 131.8h1v1h-1zM156.3 119.4h1v1h-1zM121.2 134.2h1v1h-1zM182.7 120.5h1v1h-1zM100.8 132.6h1v1h-1zM175.3 133.2h1v1h-1zM172.9 133.5h1v1h-1zM113.8 130.6h1v1h-1zM82.9 132.8h1v1h-1zM101.1 133.2h1v1h-1zM143.6 132.0h1v1h-1zM117.1 132.0h1v1h-1zM172.6 132.1h1v1h-1zM122.5 138.2h1v1h-1zM142.6 135.4h1v1h-1zM150.1 135.3h1v1h-1zM114.1 133.5h1v1h-1zM128.6 128.6h1v1h-1zM107.7 131.6h1v1h-1zM145.6 125.2h1v1h-1zM130.9 133.3h1v1h-1zM110.1 128.3h1v1h-1zM169.7 132.8h1v1h-1zM111.1 136.0h1v1h-1zM136.5 136.5h1v1h-1zM155.8 131.0h1v1h-1zM103.1 137.3h1v1h-1zM109.0 128.0h1v1h-1zM140.4 128.7h1v1h-1zM137.6 135.7h1v1h-1zM129.4 140.2h1v1h-1zM104.9 136.6h1v1h-1zM110.3 134.9h1v1h-1zM117.0 137.0h1v1h-1zM169.4 129.0h1v1h-1zM149.2 135.8h1v1h-1zM84.4 141.7h1v1h-1zM128.8 130.6h1v1h-1zM110.9 136.2h1v1h-1zM108.7 134.9h1v1h-1zM147.8 130.2h1v1h-1zM131.5 134.5h1v1h-1zM141.3 127.5h1v1h-1zM183.3 137.2h1v1h-1zM133.1 142.2h1v1h-1zM90.9 140.1h1v1h-1zM149.8 125.0h1v1h-1zM126.0 130.2h1v1h-1zM104.1 135.6h1v1h-1zM95.7 135.0h1v1h-1zM95.9 136.6h1v1h-1zM171.1 138.7h1v1h-1zM142.1 127.4h1v1h-1zM108.7 132.7h1v1h-1zM100.0 139.6h1v1h-1zM184.1 114.3h1v1h-1zM133.7 132.9h1v1h-1zM108.8 137.2h1v1h-1zM145.3 125.9h1v1h-1zM95.6 131.2h1v1h-1zM129.6 137.6h1v1h-1zM179.2 115.9h1v1h-1zM125.5 131.5h1v1h-1zM159.0 124.6h1v1h-1zM138.9 129.5h1v1h-1zM166.9 128.1h1v1h-1zM108.5 127.4h1v1h-1zM92.1 130.0h1v1h-1zM127.6 135.9h1v1h-1zM134.6 126.9h1v1h-1zM113.1 133.6h1v1h-1zM166.2 125.1h1v1h-1zM150.4 131.5h1v1h-1zM184.4 130.5h1v1h-1zM169.6 133.6h1v1h-1zM125.1 137.0h1v1h-1zM180.5 128.9h1v1h-1zM137.2 129.4h1v1h-1zM110.6 133.2h1v1h-1zM100.4 131.6h1v1h-1zM172.6 123.2h1v1h-1zM153.9 132.1h1v1h-1zM119.8 140.2h1v1h-1zM144.0 125.2h1v1h-1zM100.0 136.8h1v1h-1zM119.5 129.6h1v1h-1zM142.2 132.8h1v1h-1zM162.8 132.8h1v1h-1zM171.3 129.6h1v1h-1zM109.4 135.1h1v1h-1zM122.8 132.7h1v1h-1zM145.6 133.6h1v1h-1zM156.1 133.2h1v1h-1zM167.1 127.3h1v1h-1zM122.5 134.4h1v1h-1zM96.1 136.3h1v1h-1zM111.7 132.9h1v1h-1zM146.2 132.2h1v1h-1zM119.0 130.5h1v1h-1zM181.5 132.1h1v1h-1zM114.8 128.2h1v1h-1zM116.4 133.7h1v1h-1zM173.9 133.9h1v1h-1zM117.0 145.0h1v1h-1zM125.4 139.4h1v1h-1zM97.2 127.9h1v1h-1zM95.8 126.2h1v1h-1zM124.5 135.8h1v1h-1zM153.9 130.7h1v1h-1zM117.1 130.1h1v1h-1zM183.6 132.9h1v1h-1zM163.8 137.5h1v1h-1zM183.6 134.5h1v1h-1zM122.5 128.9h1v1h-1zM111.8 132.0h1v1h-1zM138.8 136.7h1v1h-1zM130.4 138.5h1v1h-1zM133.3 126.9h1v1h-1zM107.8 135.6h1v1h-1zM119.3 138.3h1v1h-1zM148.9 135.5h1v1h-1zM176.6 122.6h1v1h-1zM143.3 122.0h1v1h-1zM129.2 127.5h1v1h-1zM129.1 131.1h1v1h-1zM122.5 123.7h1v1h-1zM109.3 133.1h1v1h-1zM116.9 135.5h1v1h-1zM115.3 139.5h1v1h-1zM146.2 132.2h1v1h-1zM91.7 131.1h1v1h-1zM162.9 130.7h1v1h-1zM121.1 136.9h1v1h-1zM200.3 125.9h1v1h-1zM152.6 123.2h1v1h-1zM156.2 125.6h1v1h-1zM176.8 130.9h1v1h-1zM93.1 134.2h1v1h-1zM94.8 137.1h1v1h-1zM180.9 130.4h1v1h-1zM156.9 125.5h1v1h-1zM124.3 143.6h1v1h-1zM140.5 128.2h1v1h-1zM158.7 136.8h1v1h-1zM135.0 131.5h1v1h-1zM162.2 123.9h1v1h-1zM147.1 137.3h1v1h-1zM141.5 142.4h1v1h-1zM154.1 130.8h1v1h-1zM119.5 132.7h1v1h-1zM104.4 130.5h1v1h-1zM95.8 131.3h1v1h-1zM172.6 133.6h1v1h-1zM159.7 133.2h1v1h-1zM159.6 131.3h1v1h-1zM196.9 123.1h1v1h-1zM120.9 140.9h1v1h-1zM87.7 127.7h1v1h-1zM154.7 138.2h1v1h-1zM108.9 133.4h1v1h-1zM107.5 125.2h1v1h-1zM103.6 133.8h1v1h-1zM126.9 136.2h1v1h-1zM143.3 131.7h1v1h-1zM154.9 117.8h1v1h-1zM123.0 131.1h1v1h-1zM131.2 132.5h1v1h-1zM128.0 125.9h1v1h-1zM88.3 128.9h1v1h-1zM140.6 122.5h1v1h-1zM175.1 133.5h1v1h-1zM128.5 138.7h1v1h-1zM132.5 131.6h1v1h-1zM152.6 124.5h1v1h-1zM116.9 129.9h1v1h-1zM168.9 132.6h1v1h-1zM130.1 137.5h1v1h-1zM133.5 125.5h1v1h-1zM116.2 134.8h1v1h-1zM126.9 130.3h1v1h-1zM162.8 131.0h1v1h-1zM177.6 129.6h1v1h-1zM100.2 131.5h1v1h-1zM154.0 133.5h1v1h-1zM137.7 133.5h1v1h-1zM111.2 134.8h1v1h-1zM167.4 131.8h1v1h-1zM146.4 135.5h1v1h-1zM154.8 136.0h1v1h-1zM134.0 138.8h1v1h-1zM129.0 135.5h1v1h-1zM136.5 132.7h1v1h-1zM91.4 136.7h1v1h-1zM84.4 133.6h1v1h-1zM163.4 128.5h1v1h-1zM145.5 138.3h1v1h-1zM114.3 129.2h1v1h-1zM149.6 127.2h1v1h-1zM146.4 126.7h1v1h-1zM99.8 130.5h1v1h-1zM104.3 133.8h1v1h-1zM119.2 135.3h1v1h-1zM105.6 141.5h1v1h-1zM144.8 127.5h1v1h-1zM137.8 124.7h1v1h-1zM164.4 129.7h1v1h-1zM137.5 128.5h1v1h-1zM124.9 128.6h1v1h-1zM92.0 128.4h1v1h-1zM181.0 134.7h1v1h-1zM190.5 125.4h1v1h-1zM152.9 132.6h1v1h-1zM164.7 128.8h1v1h-1zM117.2 134.0h1v1h-1zM110.6 137.3h1v1h-1zM138.9 133.7h1v1h-1zM132.1 134.4h1v1h-1zM147.5 125.6h1v1h-1zM120.6 129.3h1v1h-1zM149.8 122.2h1v1h-1zM166.7 117.9h1v1h-1zM174.3 130.2h1v1h-1zM156.8 131.1h1v1h-1zM130.5 130.2h1v1h-1zM85.9 130.3h1v1h-1zM111.7 128.2h1v1h-1zM137.6 137.7h1v1h-1zM126.4 131.5h1v1h-1zM132.7 136.4h1v1h-1zM121.4 133.3h1v1h-1zM137.0 130.5h1v1h-1zM141.9 129.6h1v1h-1zM145.5 127.1h1v1h-1zM171.6 135.7h1v1h-1zM133.6 136.0h1v1h-1zM146.4 140.4h1v1h-1zM126.2 133.7h1v1h-1zM172.4 116.6h1v1h-1zM159.9 137.4h1v1h-1zM112.7 134.1h1v1h-1zM128.8 126.8h1v1h-1zM157.5 125.7h1v1h-1zM166.0 140.0h1v1h-1zM121.3 130.1h1v1h-1zM128.8 127.1h1v1h-1zM123.6 130.9h1v1h-1zM171.9 135.5h1v1h-1zM99.0 137.4h1v1h-1zM140.5 141.8h1v1h-1zM118.2 133.1h1v1h-1zM144.2 136.9h1v1h-1zM96.0 133.0h1v1h-1zM143.2 125.5h1v1h-1zM102.2 125.9h1v1h-1zM184.9 120.3h1v1h-1zM174.2 128.5h1v1h-1zM102.7 131.2h1v1h-1zM151.5 125.7h1v1h-1zM174.1 136.4h1v1h-1zM139.4 134.6h1v1h-1zM106.5 129.7h1v1h-1zM141.1 128.8h1v1h-1zM139.5 133.6h1v1h-1zM139.4 134.4h1v1h-1zM110.6 129.9h1v1h-1zM87.7 132.0h1v1h-1zM110.6 126.3h1v1h-1zM166.3 134.1h1v1h-1zM100.1 134.7h1v1h-1zM83.2 142.8h1v1h-1zM132.4 124.5h1v1h-1zM131.4 128.2h1v1h-1zM165.6 136.9h1v1h-1zM176.0 133.5h1v1h-1zM114.1 137.1h1v1h-1zM174.2 127.8h1v1h-1zM93.9 133.1h1v1h-1zM137.9 132.5h1v1h-1zM126.0 130.0h1v1h-1zM158.2 132.2h1v1h-1zM140.2 133.6h1v1h-1zM119.8 125.5h1v1h-1zM139.2 130.8h1v1h-1zM107.9 133.0h1v1h-1zM127.5 123.9h1v1h-1zM154.6 131.9h1v1h-1zM168.4 145.1h1v1h-1zM120.7 132.1h1v1h-1zM177.2 128.1h1v1h-1zM138.9 129.6h1v1h-1zM190.0 134.5h1v1h-1zM105.1 135.7h1v1h-1zM84.9 136.6h1v1h-1zM122.1 136.2h1v1h-1zM129.4 128.2h1v1h-1zM157.3 128.1h1v1h-1zM195.9 130.0h1v1h-1zM107.0 134.5h1v1h-1zM157.9 144.9h1v1h-1zM129.0 126.7h1v1h-1zM104.2 134.5h1v1h-1zM139.0 137.8h1v1h-1zM122.8 132.9h1v1h-1zM143.4 133.5h1v1h-1zM107.1 139.4h1v1h-1zM160.3 128.3h1v1h-1zM157.5 126.8h1v1h-1zM126.9 123.1h1v1h-1zM98.6 128.1h1v1h-1zM180.3 119.8h1v1h-1zM148.9 128.1h1v1h-1zM162.9 124.2h1v1h-1zM115.8 141.0h1v1h-1zM86.8 139.4h1v1h-1zM140.1 134.1h1v1h-1zM101.8 140.8h1v1h-1zM143.7 137.6h1v1h-1zM130.8 134.2h1v1h-1zM120.2 137.0h1v1h-1zM164.5 130.5h1v1h-1zM173.9 127.7h1v1h-1zM159.6 129.6h1v1h-1zM110.2 131.4h1v1h-1zM190.2 133.4h1v1h-1zM158.0 135.6h1v1h-1zM95.7 138.9h1v1h-1zM107.4 130.4h1v1h-1zM139.9 130.3h1v1h-1zM115.8 129.3h1v1h-1zM132.3 126.0h1v1h-1zM166.0 130.9h1v1h-1zM136.9 132.8h1v1h-1zM149.9 140.7h1v1h-1zM129.6 132.9h1v1h-1zM147.2 131.1h1v1h-1zM145.6 131.7h1v1h-1zM113.6 130.5h1v1h-1zM167.3 132.3h1v1h-1zM146.6 137.4h1v1h-1zM179.9 134.1h1v1h-1zM100.7 134.7h1v1h-1zM156.8 128.3h1v1h-1zM180.9 127.2h1v1h-1zM139.6 134.4h1v1h-1zM153.7 133.9h1v1h-1zM144.9 129.8h1v1h-1zM123.9 130.5h1v1h-1zM186.0 133.1h1v1h-1zM155.3 128.3h1v1h-1zM124.2 129.7h1v1h-1zM130.7 136.5h1v1h-1zM174.7 122.8h1v1h-1zM176.8 127.3h1v1h-1zM114.9 127.9h1v1h-1zM125.9 133.7h1v1h-1zM115.7 132.4h1v1h-1zM174.9 141.9h1v1h-1zM106.7 128.8h1v1h-1zM108.9 132.9h1v1h-1zM121.3 132.1h1v1h-1zM169.5 137.2h1v1h-1zM152.9 119.8h1v1h-1zM134.7 124.3h1v1h-1zM107.0 124.3h1v1h-1zM170.5 124.6h1v1h-1zM116.1 129.3h1v1h-1zM139.4 134.5h1v1h-1zM168.0 131.8h1v1h-1zM143.2 128.5h1v1h-1zM122.6 130.1h1v1h-1zM116.6 135.8h1v1h-1zM133.1 132.5h1v1h-1zM145.4 129.1h1v1h-1zM139.9 138.2h1v1h-1zM154.9 131.1h1v1h-1zM146.7 131.9h1v1h-1zM110.5 131.7h1v1h-1zM198.5 135.6h1v1h-1zM177.1 133.3h1v1h-1zM146.8 130.0h1v1h-1zM142.2 130.1h1v1h-1zM178.8 138.9h1v1h-1zM148.9 135.4h1v1h-1zM142.9 126.0h1v1h-1zM104.4 132.9h1v1h-1zM123.4 128.2h1v1h-1zM115.1 136.0h1v1h-1zM171.9 129.3h1v1h-1zM139.7 135.1h1v1h-1zM167.4 127.0h1v1h-1zM104.9 129.9h1v1h-1zM105.6 130.4h1v1h-1zM128.9 130.5h1v1h-1zM149.9 137.4h1v1h-1zM111.7 132.9h1v1h-1zM119.8 128.3h1v1h-1zM147.2 128.0h1v1h-1zM110.3 129.6h1v1h-1zM107.8 136.5h1v1h-1zM128.4 129.0h1v1h-1zM148.0 147.0h1v1h-1zM176.1 137.4h1v1h-1zM145.5 133.2h1v1h-1zM143.7 137.3h1v1h-1zM155.2 143.9h1v1h-1zM156.7 128.4h1v1h-1zM139.5 131.3h1v1h-1zM116.4 131.5h1v1h-1zM135.5 130.7h1v1h-1zM125.0 128.5h1v1h-1zM187.8 128.6h1v1h-1zM91.5 135.6h1v1h-1zM137.2 131.8h1v1h-1zM126.0 138.7h1v1h-1zM170.8 131.4h1v1h-1zM133.4 136.4h1v1h-1zM154.0 133.8h1v1h-1zM154.5 138.7h1v1h-1zM119.5 127.6h1v1h-1zM157.6 123.4h1v1h-1zM104.8 134.0h1v1h-1zM172.0 129.6h1v1h-1zM118.0 136.0h1v1h-1zM161.3 132.3h1v1h-1zM100.8 135.2h1v1h-1zM138.1 130.2h1v1h-1zM150.8 146.2h1v1h-1zM179.2 138.5h1v1h-1zM164.8 131.7h1v1h-1zM188.7 122.3h1v1h-1zM149.2 121.9h1v1h-1zM119.3 133.4h1v1h-1zM142.4 132.8h1v1h-1zM83.5 136.9h1v1h-1zM122.3 129.9h1v1h-1zM91.9 134.5h1v1h-1zM135.0 133.2h1v1h-1zM140.7 131.6h1v1h-1zM136.9 121.7h1v1h-1zM92.1 139.6h1v1h-1zM219.0 133.5h1v1h-1zM157.0 130.5h1v1h-1zM89.9 131.3h1v1h-1zM179.6 122.6h1v1h-1zM169.9 129.3h1v1h-1zM129.6 134.5h1v1h-1zM145.0 124.5h1v1h-1zM135.5 126.2h1v1h-1zM108.3 137.5h1v1h-1zM164.6 128.2h1v1h-1zM166.2 123.5h1v1h-1zM154.4 136.0h1v1h-1zM153.3 133.3h1v1h-1zM122.9 134.4h1v1h-1zM143.4 132.3h1v1h-1zM177.8 126.2h1v1h-1zM149.2 135.6h1v1h-1zM118.9 129.1h1v1h-1zM137.0 126.8h1v1h-1zM115.0 130.8h1v1h-1zM98.4 140.2h1v1h-1zM140.9 132.1h1v1h-1zM98.7 133.9h1v1h-1zM91.6 142.7h1v1h-1zM133.0 135.3h1v1h-1zM150.1 138.4h1v1h-1zM165.4 136.1h1v1h-1zM129.6 129.8h1v1h-1zM118.5 128.5h1v1h-1zM133.3 124.6h1v1h-1zM148.0 130.6h1v1h-1zM129.7 132.1h1v1h-1zM193.7 136.1h1v1h-1zM148.1 122.5h1v1h-1zM154.9 123.7h1v1h-1zM111.9 125.2h1v1h-1zM113.6 130.5h1v1h-1zM112.4 134.9h1v1h-1zM169.0 127.7h1v1h-1zM92.0 135.1h1v1h-1zM97.9 136.5h1v1h-1zM150.1 130.8h1v1h-1zM135.6 128.2h1v1h-1zM119.4 136.5h1v1h-1zM147.6 127.9h1v1h-1zM177.3 134.4h1v1h-1zM100.0 135.9h1v1h-1zM162.9 127.5h1v1h-1zM162.9 131.4h1v1h-1zM139.5 132.6h1v1h-1zM150.5 136.3h1v1h-1zM161.3 124.8h1v1h-1zM150.9 130.4h1v1h-1zM152.2 142.5h1v1h-1zM149.3 132.9h1v1h-1zM95.1 129.2h1v1h-1zM113.4 135.6h1v1h-1zM113.6 138.3h1v1h-1zM166.4 134.8h1v1h-1zM146.8 132.9h1v1h-1zM130.3 129.7h1v1h-1zM119.2 130.4h1v1h-1zM161.6 132.5h1v1h-1zM148.7 138.2h1v1h-1zM141.5 134.9h1v1h-1zM167.8 115.8h1v1h-1zM181.0 125.0h1v1h-1zM135.8 130.4h1v1h-1zM139.6 133.9h1v1h-1zM135.7 136.0h1v1h-1zM142.8 126.3h1v1h-1zM144.3 127.4h1v1h-1zM129.7 135.8h1v1h-1zM105.0 132.0h1v1h-1zM107.7 133.1h1v1h-1zM107.6 126.5h1v1h-1zM180.9 135.0h1v1h-1zM131.8 129.5h1v1h-1zM163.7 133.9h1v1h-1zM148.9 125.6h1v1h-1zM162.3 125.8h1v1h-1zM109.6 137.0h1v1h-1zM122.4 138.6h1v1h-1zM161.3 136.7h1v1h-1zM167.0 131.5h1v1h-1zM153.5 131.0h1v1h-1zM159.4 138.3h1v1h-1zM128.9 124.5h1v1h-1zM100.3 138.7h1v1h-1zM156.1 135.1h1v1h-1zM145.4 135.8h1v1h-1zM110.2 138.4h1v1h-1zM144.2 130.1h1v1h-1zM157.9 133.4h1v1h-1zM139.8 136.4h1v1h-1zM147.3 130.6h1v1h-1zM170.0 127.6h1v1h-1zM121.2 128.0h1v1h-1zM141.0 126.4h1v1h-1zM140.8 140.9h1v1h-1zM152.0 137.0h1v1h-1zM106.9 140.4h1v1h-1zM145.7 132.5h1v1h-1zM190.4 124.3h1v1h-1zM120.6 136.0h1v1h-1zM132.7 135.3h1v1h-1zM109.1 130.5h1v1h-1zM175.4 131.2h1v1h-1zM91.7 133.1h1v1h-1zM160.4 134.9h1v1h-1zM141.2 126.6h1v1h-1zM132.3 132.2h1v1h-1zM105.4 131.3h1v1h-1zM167.2 138.7h1v1h-1zM168.0 129.2h1v1h-1zM94.9 128.0h1v1h-1zM140.8 136.8h1v1h-1zM121.3 134.2h1v1h-1zM138.0 137.6h1v1h-1zM140.6 120.5h1v1h-1zM143.7 124.1h1v1h-1zM137.6 134.9h1v1h-1zM94.6 132.0h1v1h-1zM85.2 136.1h1v1h-1zM149.3 131.1h1v1h-1zM172.1 130.0h1v1h-1zM126.1 135.2h1v1h-1zM155.0 130.9h1v1h-1zM145.8 132.9h1v1h-1zM170.8 138.0h1v1h-1zM127.0 138.5h1v1h-1zM111.2 131.9h1v1h-1zM122.1 135.1h1v1h-1zM156.8 133.3h1v1h-1zM185.9 131.2h1v1h-1zM156.2 119.9h1v1h-1zM86.7 139.6h1v1h-1zM107.9 124.2h1v1h-1zM90.0 132.7h1v1h-1zM153.9 134.9h1v1h-1zM131.3 130.2h1v1h-1zM105.0 137.7h1v1h-1zM148.2 135.1h1v1h-1zM153.1 137.7h1v1h-1zM130.4 135.4h1v1h-1zM148.0 131.6h1v1h-1zM161.1 141.5h1v1h-1zM164.0 127.5h1v1h-1zM155.5 132.1h1v1h-1zM157.8 132.6h1v1h-1zM135.1 138.2h1v1h-1zM121.9 134.7h1v1h-1zM137.8 128.9h1v1h-1zM91.5 133.8h1v1h-1zM123.9 130.3h1v1h-1zM170.3 134.2h1v1h-1zM148.7 134.7h1v1h-1zM114.9 131.4h1v1h-1zM136.3 139.7h1v1h-1zM117.3 132.0h1v1h-1zM197.1 130.9h1v1h-1zM115.4 132.8h1v1h-1zM111.1 128.4h1v1h-1zM144.3 130.7h1v1h-1zM139.9 137.2h1v1h-1zM108.8 128.9h1v1h-1zM105.3 138.2h1v1h-1zM173.3 131.9h1v1h-1zM150.9 127.5h1v1h-1zM136.3 132.4h1v1h-1zM174.8 134.6h1v1h-1zM151.8 134.2h1v1h-1zM105.4 127.3h1v1h-1zM143.1 127.4h1v1h-1zM158.3 128.3h1v1h-1zM190.4 130.5h1v1h-1zM120.4 139.0h1v1h-1zM114.2 134.0h1v1h-1zM118.1 129.8h1v1h-1zM172.7 143.5h1v1h-1zM103.6 132.7h1v1h-1zM171.6 127.3h1v1h-1zM124.3 127.7h1v1h-1zM150.1 135.8h1v1h-1zM100.1 129.8h1v1h-1zM133.8 131.5h1v1h-1zM136.1 125.7h1v1h-1zM109.6 134.6h1v1h-1zM137.3 124.2h1v1h-1zM185.0 124.3h1v1h-1zM173.2 132.6h1v1h-1zM187.6 128.7h1v1h-1zM139.6 132.3h1v1h-1zM155.7 138.5h1v1h-1zM136.4 136.1h1v1h-1zM173.2 124.6h1v1h-1zM132.5 126.4h1v1h-1zM164.6 130.5h1v1h-1zM183.7 131.3h1v1h-1zM122.8 139.0h1v1h-1zM133.9 138.4h1v1h-1zM137.7 128.1h1v1h-1zM142.5 130.4h1v1h-1zM179.9 138.6h1v1h-1zM139.7 131.8h1v1h-1zM135.0 135.0h1v1h-1zM133.5 139.2h1v1h-1zM167.6 124.7h1v1h-1zM154.0 130.4h1v1h-1zM148.4 139.5h1v1h-1zM116.2 136.2h1v1h-1zM168.0 131.7h1v1h-1zM151.0 136.4h1v1h-1zM142.7 129.0h1v1h-1zM163.8 136.7h1v1h-1zM104.9 133.3h1v1h-1zM118.0 138.6h1v1h-1zM169.8 127.0h1v1h-1zM112.2 132.4h1v1h-1zM136.0 128.8h1v1h-1zM121.3 122.9h1v1h-1zM169.2 126.6h1v1h-1zM173.2 128.7h1v1h-1zM128.0 136.2h1v1h-1zM143.5 139.9h1v1h-1zM120.8 121.7h1v1h-1zM123.8 125.4h1v1h-1zM137.2 135.4h1v1h-1zM143.7 132.8h1v1h-1zM98.8 130.3h1v1h-1zM100.3 133.4h1v1h-1zM157.4 135.4h1v1h-1zM117.6 136.3h1v1h-1zM131.5 134.7h1v1h-1zM170.4 133.6h1v1h-1zM95.3 136.3h1v1h-1zM152.9 136.0h1v1h-1zM166.2 124.0h1v1h-1zM117.2 135.9h1v1h-1zM131.1 125.9h1v1h-1zM125.0 143.3h1v1h-1zM123.9 128.8h1v1h-1zM111.3 134.9h1v1h-1zM115.6 129.7h1v1h-1zM94.8 133.3h1v1h-1zM161.8 122.6h1v1h-1zM160.3 134.6h1v1h-1zM154.5 129.4h1v1h-1zM171.5 132.3h1v1h-1zM123.8 131.6h1v1h-1zM108.7 135.4h1v1h-1zM154.2 128.4h1v1h-1zM129.9 131.2h1v1h-1zM89.6 136.0h1v1h-1zM155.0 129.1h1v1h-1zM152.2 134.2h1v1h-1zM128.6 126.1h1v1h-1zM142.1 133.9h1v1h-1zM116.2 130.6h1v1h-1zM135.0 136.3h1v1h-1zM113.0 137.8h1v1h-1zM114.9 131.5h1v1h-1zM121.4 130.0h1v1h-1zM87.1 137.9h1v1h-1zM167.4 126.1h1v1h-1zM172.6 127.3h1v1h-1zM104.2 132.8h1v1h-1zM175.3 136.5h1v1h-1zM123.7 127.6h1v1h-1zM114.5 141.0h1v1h-1zM158.9 129.7h1v1h-1zM117.7 136.6h1v1h-1zM123.1 126.3h1v1h-1zM120.4 128.9h1v1h-1zM130.1 136.7h1v1h-1zM125.0 133.7h1v1h-1zM111.8 135.3h1v1h-1zM112.1 141.7h1v1h-1zM82.6 131.5h1v1h-1zM132.6 133.6h1v1h-1zM161.8 133.0h1v1h-1zM157.3 128.2h1v1h-1zM92.9 132.5h1v1h-1zM159.6 127.3h1v1h-1zM151.9 133.9h1v1h-1zM131.1 131.8h1v1h-1zM103.4 130.7h1v1h-1zM118.6 121.2h1v1h-1zM166.1 130.3h1v1h-1zM108.5 129.8h1v1h-1zM168.0 131.6h1v1h-1zM104.3 133.9h1v1h-1zM126.2 129.0h1v1h-1zM107.6 134.7h1v1h-1zM151.7 128.0h1v1h-1zM149.8 131.5h1v1h-1zM151.2 131.8h1v1h-1zM159.0 122.7h1v1h-1zM127.3 132.4h1v1h-1zM169.7 126.7h1v1h-1zM90.0 140.3h1v1h-1zM131.2 138.7h1v1h-1zM121.7 129.4h1v1h-1zM121.9 131.9h1v1h-1zM142.6 136.9h1v1h-1zM143.1 126.3h1v1h-1zM104.2 134.2h1v1h-1zM110.2 134.0h1v1h-1zM117.5 127.5h1v1h-1zM137.8 127.8h1v1h-1zM141.7 128.3h1v1h-1zM160.4 139.7h1v1h-1zM112.9 133.1h1v1h-1zM146.1 136.4h1v1h-1zM105.0 130.6h1v1h-1zM165.4 132.5h1v1h-1zM130.6 142.4h1v1h-1zM98.9 135.0h1v1h-1zM122.5 126.0h1v1h-1zM167.3 128.4h1v1h-1zM173.6 133.3h1v1h-1zM172.7 128.7h1v1h-1zM157.8 132.5h1v1h-1zM101.1 133.6h1v1h-1zM147.0 136.2h1v1h-1zM121.1 127.2h1v1h-1zM171.5 132.6h1v1h-1zM137.2 133.9h1v1h-1zM148.4 128.3h1v1h-1zM156.4 135.5h1v1h-1zM111.4 136.9h1v1h-1zM166.3 130.2h1v1h-1zM151.2 133.2h1v1h-1zM181.7 129.5h1v1h-1zM94.4 133.3h1v1h-1zM142.5 133.3h1v1h-1zM94.5 136.8h1v1h-1zM151.0 129.2h1v1h-1zM111.9 132.1h1v1h-1zM104.6 135.7h1v1h-1zM179.3 129.5h1v1h-1zM145.0 135.8h1v1h-1zM111.7 136.1h1v1h-1zM161.9 135.9h1v1h-1zM92.1 138.5h1v1h-1zM120.7 131.3h1v1h-1zM178.1 127.2h1v1h-1zM138.1 127.5h1v1h-1zM139.6 142.9h1v1h-1zM127.6 130.7h1v1h-1zM103.4 132.6h1v1h-1zM144.8 130.2h1v1h-1zM103.3 138.5h1v1h-1zM116.4 131.2h1v1h-1zM149.0 135.7h1v1h-1zM180.3 126.1h1v1h-1zM94.3 138.2h1v1h-1zM168.1 125.2h1v1h-1zM167.1 126.5h1v1h-1zM212.3 128.8h1v1h-1zM150.7 134.1h1v1h-1zM115.7 133.3h1v1h-1zM114.2 141.2h1v1h-1zM186.5 137.9h1v1h-1zM128.8 137.8h1v1h-1zM155.3 137.2h1v1h-1zM139.6 131.3h1v1h-1zM169.5 138.8h1v1h-1zM114.1 133.4h1v1h-1zM164.4 128.4h1v1h-1zM176.4 128.8h1v1h-1zM156.7 133.4h1v1h-1zM173.4 139.1h1v1h-1zM115.1 140.5h1v1h-1zM162.4 139.6h1v1h-1zM105.6 136.1h1v1h-1zM168.4 139.8h1v1h-1zM158.1 134.9h1v1h-1zM83.3 138.9h1v1h-1zM112.6 138.9h1v1h-1zM92.4 134.5h1v1h-1zM85.8 135.3h1v1h-1zM142.5 129.9h1v1h-1zM148.4 138.4h1v1h-1zM141.5 123.3h1v1h-1zM123.6 129.5h1v1h-1zM156.7 129.7h1v1h-1zM171.5 126.9h1v1h-1zM101.0 132.0h1v1h-1zM161.8 127.5h1v1h-1zM110.1 134.5h1v1h-1zM132.3 122.8h1v1h-1zM156.8 117.9h1v1h-1zM156.6 137.1h1v1h-1zM124.6 134.2h1v1h-1zM131.6 133.8h1v1h-1zM181.4 144.1h1v1h-1zM143.5 129.0h1v1h-1zM141.3 129.1h1v1h-1zM118.8 137.2h1v1h-1zM144.4 131.2h1v1h-1zM147.7 132.0h1v1h-1zM112.6 134.9h1v1h-1zM117.2 138.3h1v1h-1zM120.2 130.7h1v1h-1zM148.8 134.2h1v1h-1zM130.1 129.0h1v1h-1zM138.3 143.9h1v1h-1zM164.9 137.3h1v1h-1zM158.8 133.8h1v1h-1zM142.7 136.7h1v1h-1zM89.3 139.4h1v1h-1zM114.4 133.4h1v1h-1zM93.6 125.9h1v1h-1zM134.4 127.5h1v1h-1zM155.7 135.6h1v1h-1zM166.1 119.5h1v1h-1zM140.2 130.5h1v1h-1zM144.3 128.5h1v1h-1zM118.9 134.4h1v1h-1zM118.1 139.5h1v1h-1zM132.8 130.2h1v1h-1zM161.9 130.2h1v1h-1zM150.6 132.9h1v1h-1zM97.0 141.5h1v1h-1zM157.8 128.9h1v1h-1zM172.4 120.8h1v1h-1zM166.8 123.9h1v1h-1zM140.5 133.0h1v1h-1zM159.3 129.3h1v1h-1zM108.6 126.5h1v1h-1zM139.0 131.0h1v1h-1zM144.1 137.7h1v1h-1zM150.7 129.3h1v1h-1zM124.8 127.8h1v1h-1zM131.0 132.5h1v1h-1zM84.0 138.6h1v1h-1zM112.9 141.0h1v1h-1zM174.4 127.7h1v1h-1zM132.7 141.1h1v1h-1zM135.4 131.0h1v1h-1zM165.9 125.8h1v1h-1zM183.7 133.0h1v1h-1zM158.8 129.1h1v1h-1zM180.6 135.4h1v1h-1zM82.4 138.6h1v1h-1zM152.2 137.6h1v1h-1zM128.7 131.0h1v1h-1zM161.5 136.6h1v1h-1zM164.8 127.4h1v1h-1zM120.4 138.2h1v1h-1zM85.5 133.8h1v1h-1zM123.2 129.7h1v1h-1zM147.8 125.8h1v1h-1zM82.5 135.3h1v1h-1zM116.2 130.5h1v1h-1zM149.8 133.2h1v1h-1zM188.0 136.6h1v1h-1zM174.2 124.8h1v1h-1zM108.4 127.2h1v1h-1zM162.2 126.7h1v1h-1zM158.7 122.8h1v1h-1zM177.6 128.0h1v1h-1zM139.3 134.2h1v1h-1zM99.0 124.2h1v1h-1zM227.3 117.1h1v1h-1zM107.7 128.0h1v1h-1zM103.4 125.7h1v1h-1zM168.1 133.3h1v1h-1zM142.8 136.5h1v1h-1zM93.7 132.1h1v1h-1zM140.2 125.8h1v1h-1zM140.3 123.0h1v1h-1zM112.7 136.5h1v1h-1zM107.4 139.3h1v1h-1zM164.8 124.8h1v1h-1zM165.2 125.5h1v1h-1zM171.0 129.9h1v1h-1zM117.8 131.1h1v1h-1zM102.1 131.8h1v1h-1zM129.9 137.8h1v1h-1zM83.0 137.1h1v1h-1zM127.8 135.1h1v1h-1zM92.1 129.3h1v1h-1zM161.3 130.0h1v1h-1zM151.0 128.2h1v1h-1zM104.4 132.4h1v1h-1zM113.0 130.8h1v1h-1zM185.9 131.3h1v1h-1zM146.8 125.2h1v1h-1zM152.5 138.0h1v1h-1zM172.2 138.2h1v1h-1zM172.0 134.4h1v1h-1zM120.4 130.5h1v1h-1zM169.4 132.7h1v1h-1zM123.8 133.2h1v1h-1zM113.7 129.4h1v1h-1zM132.0 125.9h1v1h-1zM125.2 135.3h1v1h-1zM102.8 131.4h1v1h-1zM107.8 131.1h1v1h-1zM112.1 128.8h1v1h-1zM153.1 127.7h1v1h-1zM161.1 133.6h1v1h-1zM137.2 136.0h1v1h-1zM134.2 137.3h1v1h-1zM102.2 130.4h1v1h-1zM106.1 138.2h1v1h-1zM128.5 128.3h1v1h-1zM97.9 140.6h1v1h-1zM84.7 131.6h1v1h-1zM136.7 142.8h1v1h-1zM155.4 134.2h1v1h-1zM142.4 133.5h1v1h-1zM122.4 142.2h1v1h-1zM184.3 143.1h1v1h-1zM142.6 134.4h1v1h-1zM135.3 135.0h1v1h-1zM169.0 131.9h1v1h-1zM94.2 131.4h1v1h-1zM154.7 137.7h1v1h-1zM127.1 131.1h1v1h-1zM142.7 121.2h1v1h-1zM151.9 134.6h1v1h-1zM172.1 136.0h1v1h-1zM147.1 125.9h1v1h-1zM97.0 133.0h1v1h-1zM130.5 130.6h1v1h-1zM118.2 134.2h1v1h-1zM119.1 132.9h1v1h-1zM155.2 128.4h1v1h-1zM114.1 138.4h1v1h-1zM141.6 132.4h1v1h-1zM175.5 140.6h1v1h-1zM158.9 136.2h1v1h-1zM110.6 139.3h1v1h-1zM137.7 130.3h1v1h-1zM141.8 124.1h1v1h-1zM146.8 132.1h1v1h-1zM154.4 133.2h1v1h-1zM133.8 127.4h1v1h-1zM170.7 138.4h1v1h-1zM162.2 135.3h1v1h-1zM95.6 134.3h1v1h-1zM125.0 132.6h1v1h-1zM134.3 123.2h1v1h-1zM152.4 133.6h1v1h-1zM127.9 135.4h1v1h-1zM138.9 139.7h1v1h-1zM120.5 130.1h1v1h-1zM127.6 135.9h1v1h-1zM94.9 139.0h1v1h-1zM172.2 135.1h1v1h-1zM156.2 124.1h1v1h-1zM168.5 129.2h1v1h-1zM141.8 130.2h1v1h-1zM154.8 138.0h1v1h-1zM105.7 130.2h1v1h-1zM143.6 134.1h1v1h-1zM129.1 137.5h1v1h-1zM122.5 130.9h1v1h-1zM117.2 135.2h1v1h-1zM173.9 144.1h1v1h-1zM118.9 135.3h1v1h-1zM126.3 126.5h1v1h-1zM119.1 131.4h1v1h-1zM102.8 132.3h1v1h-1zM117.8 130.6h1v1h-1zM96.2 131.3h1v1h-1zM136.5 129.2h1v1h-1zM147.9 128.5h1v1h-1zM168.9 126.5h1v1h-1zM108.7 137.9h1v1h-1zM180.6 133.1h1v1h-1zM155.8 128.1h1v1h-1zM136.8 141.5h1v1h-1zM104.9 131.8h1v1h-1zM116.7 139.4h1v1h-1zM162.6 125.0h1v1h-1zM120.1 127.6h1v1h-1zM155.7 136.3h1v1h-1zM122.7 134.0h1v1h-1zM174.2 126.7h1v1h-1zM135.1 131.9h1v1h-1zM154.2 136.3h1v1h-1zM122.5 134.2h1v1h-1zM138.1 128.6h1v1h-1zM92.6 133.8h1v1h-1zM155.3 133.1h1v1h-1zM169.3 119.4h1v1h-1zM127.4 136.2h1v1h-1zM110.3 130.2h1v1h-1zM141.4 125.8h1v1h-1zM157.5 131.6h1v1h-1zM146.7 133.3h1v1h-1zM158.0 132.9h1v1h-1zM207.1 134.9h1v1h-1zM133.0 135.6h1v1h-1zM136.6 128.3h1v1h-1zM182.0 128.4h1v1h-1zM143.0 129.7h1v1h-1zM83.5 136.4h1v1h-1zM101.0 141.1h1v1h-1zM124.5 137.3h1v1h-1zM168.4 129.4h1v1h-1zM141.7 133.4h1v1h-1zM113.3 131.5h1v1h-1zM153.9 136.4h1v1h-1zM165.4 128.0h1v1h-1zM179.4 126.3h1v1h-1zM131.3 129.0h1v1h-1zM114.0 130.8h1v1h-1zM168.4 131.6h1v1h-1zM172.4 129.5h1v1h-1zM129.1 129.9h1v1h-1zM161.3 130.8h1v1h-1zM174.3 131.4h1v1h-1zM122.9 132.6h1v1h-1zM177.4 130.8h1v1h-1zM106.4 128.4h1v1h-1zM134.4 136.2h1v1h-1zM166.8 135.4h1v1h-1zM129.1 132.9h1v1h-1zM190.7 139.3h1v1h-1zM173.4 127.1h1v1h-1zM141.2 138.8h1v1h-1zM129.7 122.8h1v1h-1zM126.6 121.8h1v1h-1zM130.3 133.1h1v1h-1zM189.9 130.2h1v1h-1zM150.0 129.0h1v1h-1zM106.1 125.1h1v1h-1zM90.9 133.8h1v1h-1zM157.2 134.7h1v1h-1zM126.7 136.5h1v1h-1zM158.2 135.7h1v1h-1zM207.0 133.7h1v1h-1zM142.4 130.5h1v1h-1zM103.5 139.9h1v1h-1zM173.2 128.2h1v1h-1zM104.8 131.6h1v1h-1zM152.8 136.4h1v1h-1zM153.8 130.9h1v1h-1zM125.8 130.7h1v1h-1zM146.3 129.0h1v1h-1zM165.8 131.9h1v1h-1zM91.4 130.4h1v1h-1zM124.5 131.5h1v1h-1zM167.1 136.0h1v1h-1zM158.5 122.3h1v1h-1zM180.1 140.5h1v1h-1zM167.2 138.7h1v1h-1zM107.3 134.2h1v1h-1zM118.2 129.2h1v1h-1zM155.9 118.6h1v1h-1zM144.3 134.0h1v1h-1zM142.1 131.1h1v1h-1zM115.5 135.1h1v1h-1zM150.6 131.4h1v1h-1zM132.0 140.5h1v1h-1zM120.3 131.4h1v1h-1zM145.7 126.9h1v1h-1zM127.2 137.1h1v1h-1zM140.6 135.4h1v1h-1zM83.6 130.7h1v1h-1zM169.0 129.7h1v1h-1zM162.2 129.1h1v1h-1zM90.2 135.5h1v1h-1zM144.6 132.7h1v1h-1zM130.7 138.4h1v1h-1zM134.4 134.1h1v1h-1zM122.8 129.7h1v1h-1zM158.5 126.4h1v1h-1zM108.4 132.7h1v1h-1zM134.5 129.0h1v1h-1zM132.5 128.2h1v1h-1zM160.0 130.3h1v1h-1zM180.3 136.1h1v1h-1zM107.7 136.9h1v1h-1zM146.8 125.7h1v1h-1zM173.7 131.3h1v1h-1zM112.1 130.5h1v1h-1zM171.0 127.3h1v1h-1zM85.8 131.1h1v1h-1zM128.1 128.5h1v1h-1zM133.5 138.8h1v1h-1zM115.0 133.4h1v1h-1zM148.3 131.4h1v1h-1zM142.1 135.4h1v1h-1zM124.4 132.9h1v1h-1zM151.0 133.7h1v1h-1zM107.2 129.0h1v1h-1zM155.3 137.6h1v1h-1zM126.5 135.8h1v1h-1zM146.1 136.2h1v1h-1zM171.8 128.9h1v1h-1zM174.9 143.8h1v1h-1zM201.7 117.7h1v1h-1zM150.6 129.3h1v1h-1zM97.0 134.5h1v1h-1zM124.8 129.0h1v1h-1zM167.6 134.7h1v1h-1zM138.3 135.2h1v1h-1zM138.1 127.0h1v1h-1zM104.1 134.4h1v1h-1zM167.6 126.2h1v1h-1zM140.1 128.7h1v1h-1zM159.8 134.4h1v1h-1zM176.3 130.9h1v1h-1zM110.6 139.2h1v1h-1zM102.4 124.8h1v1h-1zM163.2 133.0h1v1h-1zM125.1 132.8h1v1h-1zM151.5 131.1h1v1h-1zM145.4 130.7h1v1h-1zM102.6 128.6h1v1h-1zM104.3 133.3h1v1h-1zM143.3 129.2h1v1h-1zM161.0 130.7h1v1h-1zM120.1 130.3h1v1h-1zM167.9 124.1h1v1h-1zM130.8 137.4h1v1h-1zM137.5 129.0h1v1h-1zM147.8 132.0h1v1h-1zM133.2 127.2h1v1h-1zM136.7 130.8h1v1h-1zM119.7 133.8h1v1h-1zM128.2 135.2h1v1h-1zM176.2 122.4h1v1h-1zM99.6 133.9h1v1h-1zM148.8 136.6h1v1h-1zM153.9 123.7h1v1h-1zM134.2 134.3h1v1h-1zM96.1 139.0h1v1h-1zM153.7 137.6h1v1h-1zM123.4 131.2h1v1h-1zM142.5 131.5h1v1h-1zM112.0 129.9h1v1h-1zM134.1 138.0h1v1h-1zM95.9 128.3h1v1h-1zM125.8 136.9h1v1h-1zM84.5 128.7h1v1h-1zM109.5 135.4h1v1h-1zM151.9 127.1h1v1h-1zM170.1 134.6h1v1h-1zM168.9 126.2h1v1h-1zM132.3 130.3h1v1h-1zM151.1 125.3h1v1h-1zM101.5 135.3h1v1h-1zM141.1 125.9h1v1h-1zM94.7 136.1h1v1h-1zM174.5 128.9h1v1h-1zM155.8 124.4h1v1h-1zM135.2 133.3h1v1h-1zM114.4 130.5h1v1h-1zM131.0 140.5h1v1h-1zM143.3 131.2h1v1h-1zM108.8 132.8h1v1h-1zM143.3 135.5h1v1h-1zM135.5 132.1h1v1h-1zM161.9 123.5h1v1h-1zM124.5 132.1h1v1h-1zM136.4 129.1h1v1h-1zM85.5 133.2h1v1h-1zM147.7 133.0h1v1h-1zM113.2 137.3h1v1h-1zM164.3 130.3h1v1h-1zM139.5 133.1h1v1h-1zM130.3 135.6h1v1h-1zM104.9 129.5h1v1h-1zM154.4 137.9h1v1h-1zM167.9 137.3h1v1h-1zM120.5 131.3h1v1h-1zM145.5 130.8h1v1h-1zM156.7 127.8h1v1h-1zM139.3 136.6h1v1h-1zM109.8 143.5h1v1h-1zM100.4 136.1h1v1h-1zM122.7 139.0h1v1h-1zM141.9 133.4h1v1h-1zM143.2 136.4h1v1h-1zM146.8 117.4h1v1h-1zM105.4 127.9h1v1h-1zM134.4 145.9h1v1h-1zM129.8 136.3h1v1h-1zM103.2 137.6h1v1h-1zM135.2 133.9h1v1h-1zM155.1 139.2h1v1h-1zM176.5 126.6h1v1h-1zM156.7 127.4h1v1h-1zM117.2 125.9h1v1h-1zM129.0 131.0h1v1h-1zM135.2 129.0h1v1h-1zM141.4 136.8h1v1h-1zM96.5 132.3h1v1h-1zM120.7 128.4h1v1h-1zM148.7 131.4h1v1h-1zM148.7 130.2h1v1h-1zM143.7 124.5h1v1h-1zM128.6 127.7h1v1h-1zM135.3 131.5h1v1h-1zM164.9 131.7h1v1h-1zM108.8 132.9h1v1h-1zM131.5 138.3h1v1h-1zM162.4 132.8h1v1h-1zM134.7 135.4h1v1h-1zM151.9 129.5h1v1h-1zM148.5 130.8h1v1h-1zM85.7 134.9h1v1h-1zM145.5 129.2h1v1h-1zM106.7 125.0h1v1h-1zM168.9 130.9h1v1h-1zM172.0 122.5h1v1h-1zM149.9 136.5h1v1h-1zM144.6 132.4h1v1h-1zM181.1 145.4h1v1h-1zM132.2 130.0h1v1h-1zM116.4 137.3h1v1h-1zM195.9 123.0h1v1h-1zM90.8 129.1h1v1h-1zM155.8 129.6h1v1h-1zM176.9 118.2h1v1h-1zM108.8 133.6h1v1h-1zM108.0 133.9h1v1h-1zM106.8 135.2h1v1h-1zM131.3 133.3h1v1h-1zM141.9 127.0h1v1h-1zM183.0 127.4h1v1h-1zM174.7 121.7h1v1h-1zM106.4 134.1h1v1h-1zM118.9 131.0h1v1h-1zM135.7 131.6h1v1h-1zM147.7 132.1h1v1h-1zM101.4 127.6h1v1h-1zM122.4 131.4h1v1h-1zM135.9 126.9h1v1h-1zM143.5 132.3h1v1h-1zM121.4 132.5h1v1h-1zM154.4 136.5h1v1h-1zM107.4 135.0h1v1h-1zM104.6 132.5h1v1h-1zM126.6 136.3h1v1h-1zM96.1 135.6h1v1h-1zM190.5 125.8h1v1h-1zM178.6 137.8h1v1h-1zM165.3 138.8h1v1h-1zM114.0 134.4h1v1h-1zM100.9 139.3h1v1h-1zM128.3 125.1h1v1h-1zM146.6 129.7h1v1h-1zM151.2 132.3h1v1h-1zM83.6 136.2h1v1h-1zM116.5 137.0h1v1h-1zM150.6 133.9h1v1h-1zM141.5 135.3h1v1h-1zM138.4 137.1h1v1h-1zM156.3 136.7h1v1h-1zM121.4 130.0h1v1h-1zM150.8 130.1h1v1h-1zM146.0 140.6h1v1h-1zM126.7 140.0h1v1h-1zM153.9 130.4h1v1h-1zM140.7 135.5h1v1h-1zM146.5 126.4h1v1h-1zM183.4 134.5h1v1h-1zM162.1 137.6h1v1h-1zM216.3 121.5h1v1h-1zM140.4 129.4h1v1h-1zM113.4 133.2h1v1h-1zM121.6 129.0h1v1h-1zM171.7 127.8h1v1h-1zM128.3 121.8h1v1h-1zM120.2 135.8h1v1h-1zM152.3 132.3h1v1h-1zM126.1 136.4h1v1h-1zM109.6 136.6h1v1h-1zM87.1 132.8h1v1h-1zM109.2 134.5h1v1h-1zM168.2 134.8h1v1h-1zM87.1 138.5h1v1h-1zM122.8 137.5h1v1h-1zM156.8 128.0h1v1h-1zM151.1 134.9h1v1h-1zM178.2 130.9h1v1h-1zM155.9 131.0h1v1h-1zM159.6 139.3h1v1h-1zM114.6 136.2h1v1h-1zM93.3 137.8h1v1h-1zM143.0 133.3h1v1h-1zM140.3 129.4h1v1h-1zM104.9 129.3h1v1h-1zM112.8 137.0h1v1h-1zM128.3 143.1h1v1h-1zM143.8 122.7h1v1h-1zM156.0 138.4h1v1h-1zM155.5 141.2h1v1h-1zM135.0 126.9h1v1h-1zM127.6 139.6h1v1h-1zM148.5 132.1h1v1h-1zM185.2 133.3h1v1h-1zM175.1 128.5h1v1h-1zM111.9 134.1h1v1h-1zM157.2 131.8h1v1h-1zM115.3 133.8h1v1h-1zM132.9 132.8h1v1h-1zM171.3 118.9h1v1h-1zM175.8 130.9h1v1h-1zM192.2 136.8h1v1h-1zM117.2 131.7h1v1h-1zM146.8 136.5h1v1h-1zM168.7 125.8h1v1h-1zM183.2 129.9h1v1h-1zM134.6 135.5h1v1h-1zM179.8 134.5h1v1h-1zM158.6 135.3h1v1h-1zM157.2 139.2h1v1h-1zM163.5 137.4h1v1h-1zM127.2 131.2h1v1h-1zM165.0 131.8h1v1h-1zM140.0 135.8h1v1h-1zM138.9 128.0h1v1h-1zM163.7 136.8h1v1h-1zM105.4 129.5h1v1h-1zM156.6 129.8h1v1h-1zM142.4 134.8h1v1h-1zM133.0 131.5h1v1h-1zM93.9 136.8h1v1h-1zM167.8 126.4h1v1h-1zM148.7 127.5h1v1h-1zM116.5 130.7h1v1h-1zM167.7 127.7h1v1h-1zM209.2 127.8h1v1h-1zM99.2 137.2h1v1h-1zM108.0 136.7h1v1h-1zM85.9 134.9h1v1h-1zM148.5 132.6h1v1h-1zM84.9 124.9h1v1h-1zM162.1 133.4h1v1h-1zM122.7 130.5h1v1h-1zM133.5 134.1h1v1h-1zM155.8 125.8h1v1h-1zM111.0 135.1h1v1h-1zM137.6 135.1h1v1h-1zM118.2 133.2h1v1h-1zM144.3 126.5h1v1h-1zM137.4 132.1h1v1h-1zM162.3 142.1h1v1h-1zM120.4 125.7h1v1h-1zM120.2 129.1h1v1h-1zM160.5 137.2h1v1h-1zM166.1 134.9h1v1h-1zM158.9 134.8h1v1h-1zM152.1 134.4h1v1h-1zM85.9 129.5h1v1h-1zM120.7 129.9h1v1h-1zM199.6 130.8h1v1h-1zM92.0 131.6h1v1h-1zM157.1 125.4h1v1h-1zM146.1 135.6h1v1h-1zM140.4 128.3h1v1h-1zM131.5 135.2h1v1h-1zM158.9 134.5h1v1h-1zM141.1 141.9h1v1h-1zM154.7 135.1h1v1h-1zM161.3 125.5h1v1h-1zM127.8 138.0h1v1h-1zM102.5 135.3h1v1h-1zM110.0 127.9h1v1h-1zM157.7 134.8h1v1h-1zM134.6 122.3h1v1h-1zM142.6 141.8h1v1h-1zM105.2 128.0h1v1h-1zM152.9 134.8h1v1h-1zM163.2 129.4h1v1h-1zM95.2 135.3h1v1h-1zM138.1 134.4h1v1h-1zM152.6 131.0h1v1h-1zM156.7 133.2h1v1h-1zM161.2 129.8h1v1h-1zM179.2 120.0h1v1h-1zM155.5 131.7h1v1h-1zM178.8 124.1h1v1h-1zM155.5 127.2h1v1h-1zM182.5 135.4h1v1h-1zM166.8 124.7h1v1h-1zM151.2 127.1h1v1h-1zM151.8 127.0h1v1h-1zM175.2 132.7h1v1h-1zM130.8 138.2h1v1h-1zM136.0 138.4h1v1h-1zM126.8 123.9h1v1h-1zM147.7 138.5h1v1h-1zM129.8 135.4h1v1h-1zM154.9 132.5h1v1h-1zM113.5 125.2h1v1h-1zM124.1 126.9h1v1h-1zM101.5 132.1h1v1h-1zM94.6 127.0h1v1h-1zM154.8 122.6h1v1h-1zM157.4 135.6h1v1h-1zM117.8 129.1h1v1h-1zM159.2 128.6h1v1h-1zM118.7 129.6h1v1h-1zM163.0 133.0h1v1h-1zM152.5 133.8h1v1h-1zM160.8 128.4h1v1h-1zM163.5 134.0h1v1h-1zM173.1 131.4h1v1h-1z" fill="#cc2828" fill-opacity="0.7"/>
<line x1="61.5" y1="48.4" x2="276.4" y2="48.4" stroke="#b0b0b0" stroke-width="1.3"/>
<line x1="276.4" y1="48.4" x2="276.4" y2="207.8" stroke="#a8a8a8" stroke-width="1.3"/>
<line x1="61.5" y1="48.4" x2="61.5" y2="208.5" stroke="#8c8c8c" stroke-width="1.2"/>
<line x1="61" y1="207.8" x2="277" y2="207.8" stroke="#808080" stroke-width="1.8"/>
<line x1="58.5" y1="54.5" x2="61.5" y2="54.5" stroke="#909090" stroke-width="1"/>
<line x1="58.5" y1="91.3" x2="61.5" y2="91.3" stroke="#909090" stroke-width="1"/>
<line x1="58.5" y1="128.1" x2="61.5" y2="128.1" stroke="#909090" stroke-width="1"/>
<line x1="58.5" y1="164.9" x2="61.5" y2="164.9" stroke="#909090" stroke-width="1"/>
<line x1="58.5" y1="201.7" x2="61.5" y2="201.7" stroke="#909090" stroke-width="1"/>
<line x1="85.4" y1="206.8" x2="85.4" y2="210" stroke="#909090" stroke-width="1"/>
<line x1="121.6" y1="206.8" x2="121.6" y2="210" stroke="#909090" stroke-width="1"/>
<line x1="157.8" y1="206.8" x2="157.8" y2="210" stroke="#909090" stroke-width="1"/>
<line x1="194.0" y1="206.8" x2="194.0" y2="210" stroke="#909090" stroke-width="1"/>
<line x1="230.2" y1="206.8" x2="230.2" y2="210" stroke="#909090" stroke-width="1"/>
<line x1="266.4" y1="206.8" x2="266.4" y2="210" stroke="#909090" stroke-width="1"/>
<text x="40.66" y="57.80" font-size="9.2" font-weight="bold" fill="#000" textLength="10.84" lengthAdjust="spacingAndGlyphs">20</text>
<text x="40.86" y="95.00" font-size="9.2" font-weight="bold" fill="#000" textLength="11.25" lengthAdjust="spacingAndGlyphs">10</text>
<text x="45.56" y="131.60" font-size="9.2" font-weight="bold" fill="#000" textLength="6.20" lengthAdjust="spacingAndGlyphs">0</text>
<text x="37.51" y="168.50" font-size="9.2" font-weight="bold" fill="#000" textLength="14.61" lengthAdjust="spacingAndGlyphs">-10</text>
<text x="37.51" y="205.10" font-size="9.2" font-weight="bold" fill="#000" textLength="14.61" lengthAdjust="spacingAndGlyphs">-20</text>
<text x="78.15" y="218.90" font-size="9.2" font-weight="bold" fill="#000" textLength="16.35" lengthAdjust="spacingAndGlyphs">400</text>
<text x="111.64" y="218.90" font-size="9.2" font-weight="bold" fill="#000" textLength="16.26" lengthAdjust="spacingAndGlyphs">600</text>
<text x="144.89" y="218.90" font-size="9.2" font-weight="bold" fill="#000" textLength="16.42" lengthAdjust="spacingAndGlyphs">800</text>
<text x="177.66" y="218.90" font-size="9.2" font-weight="bold" fill="#000" textLength="22.66" lengthAdjust="spacingAndGlyphs">1000</text>
<text x="217.19" y="218.90" font-size="9.2" font-weight="bold" fill="#000" textLength="21.61" lengthAdjust="spacingAndGlyphs">1200</text>
<text x="255.78" y="218.90" font-size="9.2" font-weight="bold" fill="#000" textLength="21.93" lengthAdjust="spacingAndGlyphs">1400</text>
<text x="139.88" y="237.60" font-size="11" font-weight="bold" fill="#000" textLength="48.13" lengthAdjust="spacingAndGlyphs">m/z (Da)</text>
<text transform="translate(28.30,169.70) rotate(-90)" x="-0.80" y="0" font-size="12" font-weight="bold" fill="#000" textLength="75.80" lengthAdjust="spacingAndGlyphs">DeltaM (ppm)</text>
<line x1="344.0" y1="58.5" x2="344.0" y2="205.1" stroke="#000" stroke-width="1.5"/>
<line x1="340.0" y1="204.4" x2="645.0" y2="204.4" stroke="#000" stroke-width="1.5"/>
<rect x="344.60" y="200.0" width="9.6" height="4.4" fill="#000"/>
<line x1="349.40" y1="204.4" x2="349.40" y2="208.7" stroke="#000" stroke-width="1.3"/>
<rect x="356.18" y="150.3" width="9.6" height="54.1" fill="#000"/>
<line x1="360.98" y1="204.4" x2="360.98" y2="208.7" stroke="#000" stroke-width="1.3"/>
<rect x="367.76" y="111.0" width="9.6" height="93.4" fill="#000"/>
<line x1="372.56" y1="204.4" x2="372.56" y2="208.7" stroke="#000" stroke-width="1.3"/>
<rect x="379.34" y="92.2" width="9.6" height="112.2" fill="#000"/>
<line x1="384.14" y1="204.4" x2="384.14" y2="208.7" stroke="#000" stroke-width="1.3"/>
<rect x="390.92" y="87.1" width="9.6" height="117.3" fill="#000"/>
<line x1="395.72" y1="204.4" x2="395.72" y2="208.7" stroke="#000" stroke-width="1.3"/>
<rect x="402.50" y="84.5" width="9.6" height="119.9" fill="#000"/>
<line x1="407.30" y1="204.4" x2="407.30" y2="208.7" stroke="#000" stroke-width="1.3"/>
<rect x="414.08" y="111.0" width="9.6" height="93.4" fill="#000"/>
<line x1="418.88" y1="204.4" x2="418.88" y2="208.7" stroke="#000" stroke-width="1.3"/>
<rect x="425.66" y="120.8" width="9.6" height="83.6" fill="#000"/>
<line x1="430.46" y1="204.4" x2="430.46" y2="208.7" stroke="#000" stroke-width="1.3"/>
<rect x="437.24" y="108.9" width="9.6" height="95.5" fill="#000"/>
<line x1="442.04" y1="204.4" x2="442.04" y2="208.7" stroke="#000" stroke-width="1.3"/>
<rect x="448.82" y="143.2" width="9.6" height="61.2" fill="#000"/>
<line x1="453.62" y1="204.4" x2="453.62" y2="208.7" stroke="#000" stroke-width="1.3"/>
<rect x="460.40" y="156.4" width="9.6" height="48.0" fill="#000"/>
<line x1="465.20" y1="204.4" x2="465.20" y2="208.7" stroke="#000" stroke-width="1.3"/>
<rect x="471.98" y="162.6" width="9.6" height="41.8" fill="#000"/>
<line x1="476.78" y1="204.4" x2="476.78" y2="208.7" stroke="#000" stroke-width="1.3"/>
<rect x="483.56" y="172.8" width="9.6" height="31.6" fill="#000"/>
<line x1="488.36" y1="204.4" x2="488.36" y2="208.7" stroke="#000" stroke-width="1.3"/>
<rect x="495.14" y="166.9" width="9.6" height="37.5" fill="#000"/>
<line x1="499.94" y1="204.4" x2="499.94" y2="208.7" stroke="#000" stroke-width="1.3"/>
<rect x="506.72" y="170.7" width="9.6" height="33.7" fill="#000"/>
<line x1="511.52" y1="204.4" x2="511.52" y2="208.7" stroke="#000" stroke-width="1.3"/>
<rect x="518.30" y="179.6" width="9.6" height="24.8" fill="#000"/>
<line x1="523.10" y1="204.4" x2="523.10" y2="208.7" stroke="#000" stroke-width="1.3"/>
<rect x="529.88" y="184.4" width="9.6" height="20.0" fill="#000"/>
<line x1="534.68" y1="204.4" x2="534.68" y2="208.7" stroke="#000" stroke-width="1.3"/>
<rect x="541.46" y="194.0" width="9.6" height="10.4" fill="#000"/>
<line x1="546.26" y1="204.4" x2="546.26" y2="208.7" stroke="#000" stroke-width="1.3"/>
<rect x="553.04" y="192.0" width="9.6" height="12.4" fill="#000"/>
<line x1="557.84" y1="204.4" x2="557.84" y2="208.7" stroke="#000" stroke-width="1.3"/>
<rect x="564.62" y="190.2" width="9.6" height="14.2" fill="#000"/>
<line x1="569.42" y1="204.4" x2="569.42" y2="208.7" stroke="#000" stroke-width="1.3"/>
<rect x="576.20" y="180.2" width="9.6" height="24.2" fill="#000"/>
<line x1="581.00" y1="204.4" x2="581.00" y2="208.7" stroke="#000" stroke-width="1.3"/>
<rect x="587.78" y="190.2" width="9.6" height="14.2" fill="#000"/>
<line x1="592.58" y1="204.4" x2="592.58" y2="208.7" stroke="#000" stroke-width="1.3"/>
<rect x="599.36" y="191.0" width="9.6" height="13.4" fill="#000"/>
<line x1="604.16" y1="204.4" x2="604.16" y2="208.7" stroke="#000" stroke-width="1.3"/>
<rect x="610.94" y="189.0" width="9.6" height="15.4" fill="#000"/>
<line x1="615.74" y1="204.4" x2="615.74" y2="208.7" stroke="#000" stroke-width="1.3"/>
<rect x="622.52" y="194.9" width="9.6" height="9.5" fill="#000"/>
<line x1="627.32" y1="204.4" x2="627.32" y2="208.7" stroke="#000" stroke-width="1.3"/>
<rect x="634.10" y="175.4" width="9.6" height="29.0" fill="#000"/>
<line x1="638.90" y1="204.4" x2="638.90" y2="208.7" stroke="#000" stroke-width="1.3"/>
<line x1="337.5" y1="204.2" x2="344" y2="204.2" stroke="#999" stroke-width="0.8"/>
<line x1="337.5" y1="155.8" x2="344" y2="155.8" stroke="#999" stroke-width="0.8"/>
<line x1="337.5" y1="107.4" x2="344" y2="107.4" stroke="#999" stroke-width="0.8"/>
<line x1="337.5" y1="59.0" x2="344" y2="59.0" stroke="#999" stroke-width="0.8"/>
<text x="320.32" y="62.00" font-size="8.8" font-weight="bold" fill="#000" textLength="15.25" lengthAdjust="spacingAndGlyphs">150</text>
<text x="320.32" y="110.40" font-size="8.8" font-weight="bold" fill="#000" textLength="15.25" lengthAdjust="spacingAndGlyphs">100</text>
<text x="325.32" y="158.80" font-size="8.8" font-weight="bold" fill="#000" textLength="10.26" lengthAdjust="spacingAndGlyphs">50</text>
<text x="330.43" y="207.20" font-size="8.8" font-weight="bold" fill="#000" textLength="5.15" lengthAdjust="spacingAndGlyphs">0</text>
<text x="345.16" y="218.70" font-size="9.2" font-weight="bold" fill="#000" textLength="11.25" lengthAdjust="spacingAndGlyphs">10</text>
<text x="363.77" y="218.70" font-size="9.2" font-weight="bold" fill="#000" textLength="11.25" lengthAdjust="spacingAndGlyphs">30</text>
<text x="382.60" y="218.70" font-size="9.2" font-weight="bold" fill="#000" textLength="10.90" lengthAdjust="spacingAndGlyphs">50</text>
<text x="400.64" y="218.70" font-size="9.2" font-weight="bold" fill="#000" textLength="11.79" lengthAdjust="spacingAndGlyphs">70</text>
<text x="419.43" y="218.70" font-size="9.2" font-weight="bold" fill="#000" textLength="12.02" lengthAdjust="spacingAndGlyphs">90</text>
<text x="438.09" y="218.70" font-size="9.2" font-weight="bold" fill="#000" textLength="16.10" lengthAdjust="spacingAndGlyphs">110</text>
<text x="461.86" y="218.70" font-size="9.2" font-weight="bold" fill="#000" textLength="16.85" lengthAdjust="spacingAndGlyphs">130</text>
<text x="486.14" y="218.70" font-size="9.2" font-weight="bold" fill="#000" textLength="17.60" lengthAdjust="spacingAndGlyphs">150</text>
<text x="510.14" y="218.70" font-size="9.2" font-weight="bold" fill="#000" textLength="17.38" lengthAdjust="spacingAndGlyphs">170</text>
<text x="533.95" y="218.70" font-size="9.2" font-weight="bold" fill="#000" textLength="17.28" lengthAdjust="spacingAndGlyphs">190</text>
<text x="557.94" y="218.70" font-size="9.2" font-weight="bold" fill="#000" textLength="17.28" lengthAdjust="spacingAndGlyphs">200</text>
<text x="581.53" y="218.70" font-size="9.2" font-weight="bold" fill="#000" textLength="17.60" lengthAdjust="spacingAndGlyphs">240</text>
<text x="606.56" y="218.70" font-size="9.2" font-weight="bold" fill="#000" textLength="16.24" lengthAdjust="spacingAndGlyphs">280</text>
<text x="629.98" y="218.70" font-size="9.2" font-weight="bold" fill="#000" textLength="22.63" lengthAdjust="spacingAndGlyphs">&gt;300</text>
<text x="427.20" y="237.00" font-size="11.6" font-weight="bold" fill="#000" textLength="126.10" lengthAdjust="spacingAndGlyphs">Molecular Weight (kD)</text>
<text transform="translate(311.10,211.70) rotate(-90)" x="-0.79" y="0" font-size="12.2" font-weight="bold" fill="#000" textLength="159.08" lengthAdjust="spacingAndGlyphs">Number of phosphoproteins</text>
<line x1="718.8" y1="59.3" x2="718.8" y2="206.9" stroke="#000" stroke-width="1.6"/>
<line x1="715.6" y1="206.2" x2="938.6" y2="206.2" stroke="#000" stroke-width="1.5"/>
<rect x="722.10" y="168.5" width="17.6" height="37.7" fill="#000"/>
<line x1="730.90" y1="206.2" x2="730.90" y2="210" stroke="#000" stroke-width="1.3"/>
<rect x="746.50" y="97.8" width="17.6" height="108.4" fill="#000"/>
<line x1="755.30" y1="206.2" x2="755.30" y2="210" stroke="#000" stroke-width="1.3"/>
<rect x="770.90" y="106.1" width="17.6" height="100.1" fill="#000"/>
<line x1="779.70" y1="206.2" x2="779.70" y2="210" stroke="#000" stroke-width="1.3"/>
<rect x="795.30" y="141.5" width="17.6" height="64.7" fill="#000"/>
<line x1="804.10" y1="206.2" x2="804.10" y2="210" stroke="#000" stroke-width="1.3"/>
<rect x="819.70" y="135.5" width="17.6" height="70.7" fill="#000"/>
<line x1="828.50" y1="206.2" x2="828.50" y2="210" stroke="#000" stroke-width="1.3"/>
<rect x="844.10" y="153.2" width="17.6" height="53.0" fill="#000"/>
<line x1="852.90" y1="206.2" x2="852.90" y2="210" stroke="#000" stroke-width="1.3"/>
<rect x="868.50" y="191.4" width="17.6" height="14.8" fill="#000"/>
<line x1="877.30" y1="206.2" x2="877.30" y2="210" stroke="#000" stroke-width="1.3"/>
<rect x="892.90" y="199.4" width="17.6" height="6.8" fill="#000"/>
<line x1="901.70" y1="206.2" x2="901.70" y2="210" stroke="#000" stroke-width="1.3"/>
<rect x="917.30" y="204.6" width="17.6" height="1.6" fill="#000"/>
<line x1="926.10" y1="206.2" x2="926.10" y2="210" stroke="#000" stroke-width="1.3"/>
<line x1="715.5" y1="206.2" x2="718.8" y2="206.2" stroke="#000" stroke-width="1.3"/>
<text x="703.43" y="211.80" font-size="9.2" font-weight="bold" fill="#000" textLength="5.26" lengthAdjust="spacingAndGlyphs">0</text>
<line x1="715.5" y1="169.6" x2="718.8" y2="169.6" stroke="#000" stroke-width="1.3"/>
<text x="691.45" y="175.25" font-size="9.2" font-weight="bold" fill="#000" textLength="17.28" lengthAdjust="spacingAndGlyphs">100</text>
<line x1="715.5" y1="133.1" x2="718.8" y2="133.1" stroke="#000" stroke-width="1.3"/>
<text x="691.75" y="138.70" font-size="9.2" font-weight="bold" fill="#000" textLength="16.97" lengthAdjust="spacingAndGlyphs">200</text>
<line x1="715.5" y1="96.5" x2="718.8" y2="96.5" stroke="#000" stroke-width="1.3"/>
<text x="691.87" y="102.15" font-size="9.2" font-weight="bold" fill="#000" textLength="16.85" lengthAdjust="spacingAndGlyphs">300</text>
<line x1="715.5" y1="60.0" x2="718.8" y2="60.0" stroke="#000" stroke-width="1.3"/>
<text x="691.95" y="65.60" font-size="9.2" font-weight="bold" fill="#000" textLength="16.76" lengthAdjust="spacingAndGlyphs">400</text>
<text x="728.30" y="222.80" font-size="9.2" font-weight="bold" fill="#000" textLength="5.37" lengthAdjust="spacingAndGlyphs">5</text>
<text x="750.06" y="222.80" font-size="9.2" font-weight="bold" fill="#000" textLength="5.18" lengthAdjust="spacingAndGlyphs">6</text>
<text x="771.24" y="222.80" font-size="9.2" font-weight="bold" fill="#000" textLength="5.93" lengthAdjust="spacingAndGlyphs">7</text>
<text x="793.59" y="222.80" font-size="9.2" font-weight="bold" fill="#000" textLength="5.41" lengthAdjust="spacingAndGlyphs">8</text>
<text x="815.54" y="222.80" font-size="9.2" font-weight="bold" fill="#000" textLength="5.74" lengthAdjust="spacingAndGlyphs">9</text>
<text x="837.21" y="222.80" font-size="9.2" font-weight="bold" fill="#000" textLength="12.13" lengthAdjust="spacingAndGlyphs">10</text>
<text x="864.30" y="222.80" font-size="9.2" font-weight="bold" fill="#000" textLength="10.67" lengthAdjust="spacingAndGlyphs">11</text>
<text x="891.23" y="222.80" font-size="9.2" font-weight="bold" fill="#000" textLength="11.90" lengthAdjust="spacingAndGlyphs">12</text>
<text x="918.73" y="222.80" font-size="9.2" font-weight="bold" fill="#000" textLength="11.86" lengthAdjust="spacingAndGlyphs">13</text>
<text x="771.11" y="237.60" font-size="12.3" font-weight="bold" fill="#000" textLength="111.77" lengthAdjust="spacingAndGlyphs">Isoelectric point (pI)</text>
<text transform="translate(681.30,214.40) rotate(-90)" x="-0.78" y="0" font-size="12.3" font-weight="bold" fill="#000" textLength="156.76" lengthAdjust="spacingAndGlyphs">Number of phosphoproteins</text>
<path d="M172.00 419.40L172.00 322.60A96.8 96.8 0 1 1 102.78 351.73Z" fill="#0000c0"/>
<path d="M172.00 419.40L102.78 351.73A96.8 96.8 0 0 1 163.23 323.00Z" fill="#5a9a6a"/>
<path d="M172.00 419.40L163.23 323.00A96.8 96.8 0 0 1 172.00 322.60Z" fill="#e00000"/>
<circle cx="172.0" cy="419.4" r="96.8" fill="none" stroke="#000" stroke-width="1.8"/>
<path d="M487.80 422.40L487.80 325.70A96.7 96.7 0 1 1 398.85 460.34Z" fill="#0000c0"/>
<path d="M487.80 422.40L398.85 460.34A96.7 96.7 0 0 1 465.55 328.29Z" fill="#5a9a6a"/>
<path d="M487.80 422.40L465.55 328.29A96.7 96.7 0 0 1 487.80 325.70Z" fill="#e00000"/>
<circle cx="487.8" cy="422.4" r="96.7" fill="none" stroke="#000" stroke-width="1.8"/>
<rect x="288.05" y="331.15" width="20.90" height="9.70" rx="1" fill="#0000c0" stroke="#000" stroke-width="1.5"/>
<rect x="288.05" y="353.35" width="20.90" height="9.80" rx="1" fill="#5a9a6a" stroke="#000" stroke-width="1.5"/>
<rect x="288.05" y="375.65" width="20.90" height="9.40" rx="1" fill="#e00000" stroke="#000" stroke-width="1.5"/>
<text x="319.66" y="338.90" font-size="9.5" font-weight="bold" fill="#000" textLength="5.57" lengthAdjust="spacingAndGlyphs">S</text>
<text x="320.11" y="363.90" font-size="9.5" font-weight="bold" fill="#000" textLength="4.88" lengthAdjust="spacingAndGlyphs">T</text>
<text x="319.76" y="384.70" font-size="9.5" font-weight="bold" fill="#000" textLength="5.58" lengthAdjust="spacingAndGlyphs">Y</text>
<rect x="603.65" y="334.15" width="20.70" height="9.80" rx="1" fill="#0000c0" stroke="#000" stroke-width="1.5"/>
<rect x="603.65" y="356.85" width="20.70" height="9.40" rx="1" fill="#5a9a6a" stroke="#000" stroke-width="1.5"/>
<rect x="603.65" y="377.85" width="20.70" height="10.30" rx="1" fill="#e00000" stroke="#000" stroke-width="1.5"/>
<text x="632.18" y="340.90" font-size="9.5" font-weight="bold" fill="#000" textLength="11.42" lengthAdjust="spacingAndGlyphs">1p</text>
<text x="632.46" y="364.50" font-size="9.5" font-weight="bold" fill="#000" textLength="11.55" lengthAdjust="spacingAndGlyphs">2p</text>
<text x="632.58" y="385.90" font-size="9.5" font-weight="bold" fill="#000" textLength="11.43" lengthAdjust="spacingAndGlyphs">3p</text>
<text x="70.97" y="303.90" font-size="12.3" font-weight="bold" fill="#000" textLength="180.50" lengthAdjust="spacingAndGlyphs">Total phosphorylation site: 4594</text>
<text x="403.37" y="304.10" font-size="12.3" font-weight="bold" fill="#000" textLength="161.09" lengthAdjust="spacingAndGlyphs">Total phosphopeptides: 2724</text>
<circle cx="773.2" cy="380.7" r="66.3" fill="#4472c4" fill-opacity="0.4"/>
<circle cx="812.6" cy="448.6" r="66.6" fill="#3dab4b" fill-opacity="0.5"/>
<circle cx="852.8" cy="377.5" r="66.7" fill="#ffff00" fill-opacity="0.53"/>
<text x="744.17" y="365.90" font-size="9.6" font-weight="bold" fill="#000" textLength="15.98" lengthAdjust="spacingAndGlyphs">234</text>
<text x="735.42" y="377.70" font-size="9.6" font-weight="bold" fill="#000" textLength="33.45" lengthAdjust="spacingAndGlyphs">(18.9%)</text>
<text x="800.45" y="361.00" font-size="9.6" font-weight="bold" fill="#000" textLength="16.76" lengthAdjust="spacingAndGlyphs">200</text>
<text x="791.71" y="373.20" font-size="9.6" font-weight="bold" fill="#000" textLength="34.17" lengthAdjust="spacingAndGlyphs">(16.2%)</text>
<text x="859.47" y="360.90" font-size="9.6" font-weight="bold" fill="#000" textLength="16.12" lengthAdjust="spacingAndGlyphs">222</text>
<text x="850.82" y="373.80" font-size="9.6" font-weight="bold" fill="#000" textLength="33.86" lengthAdjust="spacingAndGlyphs">(17.9%)</text>
<text x="804.48" y="393.90" font-size="9.6" font-weight="bold" fill="#000" textLength="16.19" lengthAdjust="spacingAndGlyphs">385</text>
<text x="795.62" y="406.40" font-size="9.6" font-weight="bold" fill="#000" textLength="33.86" lengthAdjust="spacingAndGlyphs">(31.1%)</text>
<text x="773.83" y="414.30" font-size="9.6" font-weight="bold" fill="#000" textLength="11.29" lengthAdjust="spacingAndGlyphs">60</text>
<text x="765.12" y="426.50" font-size="9.6" font-weight="bold" fill="#000" textLength="28.67" lengthAdjust="spacingAndGlyphs">(4.9%)</text>
<text x="838.41" y="414.30" font-size="9.6" font-weight="bold" fill="#000" textLength="10.14" lengthAdjust="spacingAndGlyphs">74</text>
<text x="833.22" y="426.50" font-size="9.6" font-weight="bold" fill="#000" textLength="20.47" lengthAdjust="spacingAndGlyphs">(6%)</text>
<text x="803.73" y="466.00" font-size="9.6" font-weight="bold" fill="#000" textLength="11.17" lengthAdjust="spacingAndGlyphs">62</text>
<text x="799.43" y="478.80" font-size="9.6" font-weight="bold" fill="#000" textLength="19.94" lengthAdjust="spacingAndGlyphs">(5%)</text>
<text x="713.80" y="324.80" font-size="12" font-weight="bold" fill="#000" textLength="8.61" lengthAdjust="spacingAndGlyphs">A</text>
<text x="905.93" y="326.80" font-size="12" font-weight="bold" fill="#000" textLength="7.22" lengthAdjust="spacingAndGlyphs">B</text>
<text x="815.57" y="529.90" font-size="12" font-weight="bold" fill="#000" textLength="7.62" lengthAdjust="spacingAndGlyphs">C</text>
</svg>
<div class="l" style="top:554.46px;transform:scaleX(0.9631)"><b>Figure 2</b> Quantitative phosphoproteome profiling of HCC with PVTT. (<b>A</b>) The precursor mass window of the identified phosphopeptides. (<b>B</b>) The distribution of molecular</div>
<div class="l j" style="top:571.86px;width:975.66px;transform:scaleX(0.9615)">weight of the identified phosphoproteins. (<b>C</b>) The distribution of isoelectric point of the identified phosphoproteins. (<b>D</b>) Distribution of phosphorylation serine (S),</div>
<div class="l" style="top:589.16px;transform:scaleX(0.9512)">phosphorylation threonine (T) and phosphorylation tyrosine (Y) sites. (<b>E</b>) Distribution of phosphopeptides depending on their number of p-sites. (<b>F</b>) Venn diagrams showed</div>
<div class="l" style="top:606.16px;transform:scaleX(0.9631)">the overlaps of phosphoproteins identification in 3 repeated experiments.</div>

</body></html>
